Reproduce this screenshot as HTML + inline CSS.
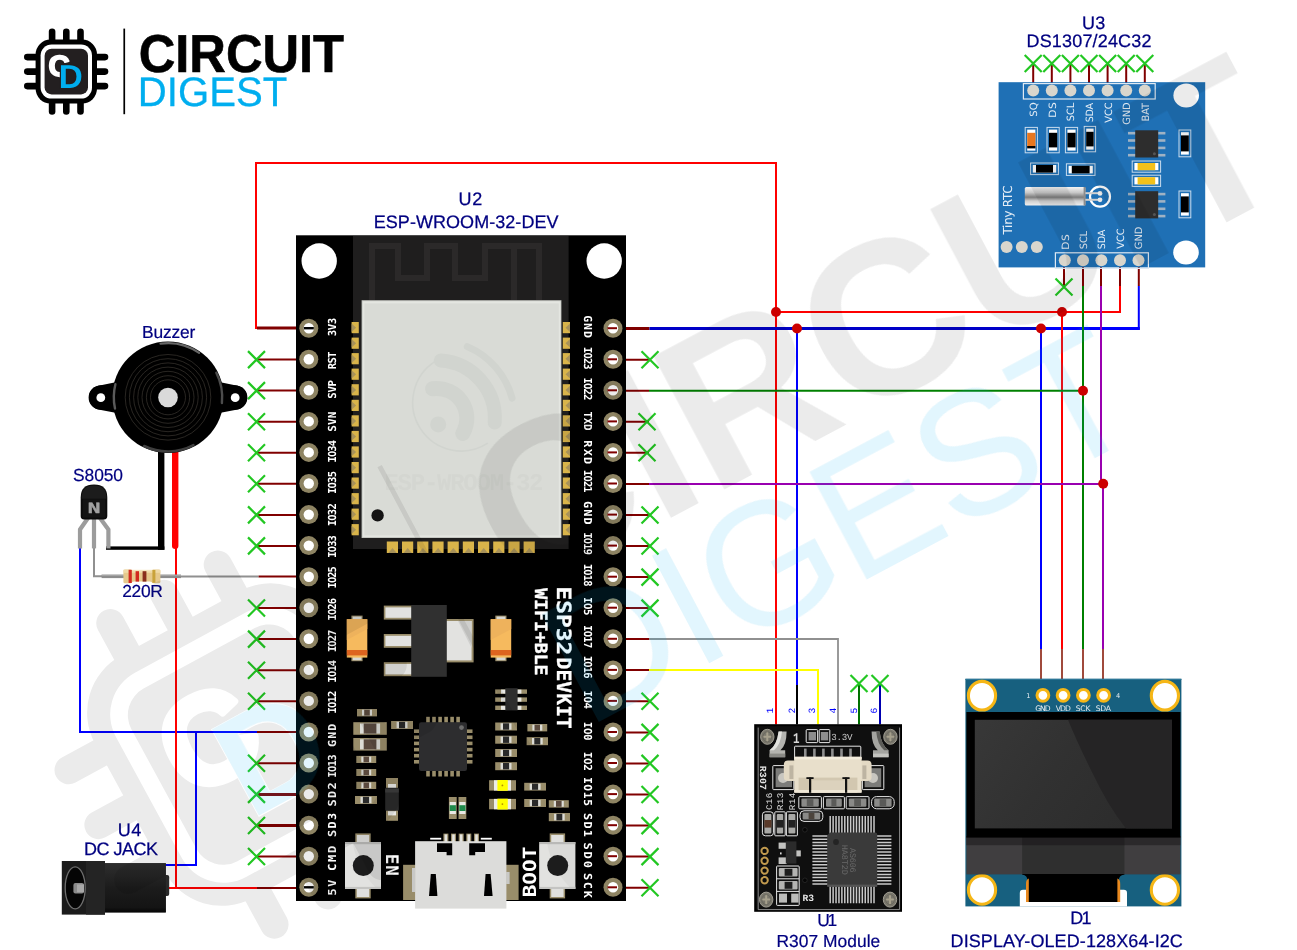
<!DOCTYPE html>
<html lang="en"><head><meta charset="utf-8"><title>ESP32 Fingerprint Attendance Circuit - Circuit Digest</title>
<style>html,body{margin:0;padding:0;background:#fff;overflow:hidden}svg{display:block;will-change:transform}text{white-space:pre;text-rendering:geometricPrecision}</style></head><body>
<svg width="1297" height="950" viewBox="0 0 1297 950" role="img" aria-label="ESP32 fingerprint attendance circuit diagram">
<rect width="1297" height="950" fill="#fff"/>
<g id="logo"><g stroke="#000" stroke-width="6.6" stroke-linecap="round"><line x1="52.1" y1="31.8" x2="52.1" y2="111.4"/><line x1="66.3" y1="31.8" x2="66.3" y2="111.4"/><line x1="80.5" y1="31.8" x2="80.5" y2="111.4"/><line x1="27.3" y1="57.1" x2="105" y2="57.1"/><line x1="27.3" y1="71.6" x2="105" y2="71.6"/><line x1="27.3" y1="86.1" x2="105" y2="86.1"/></g>
<rect x="35.6" y="39.6" width="61.4" height="64" rx="15" fill="#000"/>
<rect x="40.6" y="44.6" width="51.4" height="54" rx="11" fill="#fff"/>
<rect x="44.6" y="48.8" width="43.4" height="45.6" rx="7" fill="#231f20"/>
<text x="48.6" y="76.4" font-family="'Liberation Sans', Arial, sans-serif" font-weight="bold" font-size="29.4" stroke-width="1.7" stroke-linejoin="round" fill="#fff" stroke="#fff">C</text>
<rect x="64" y="68.4" width="11.6" height="16" rx="3" fill="#231f20"/>
<text x="58.8" y="87.6" font-family="'Liberation Sans', Arial, sans-serif" font-weight="bold" font-size="33.2" fill="#00aeef" stroke="#231f20" stroke-width="2.4" stroke-linejoin="round" paint-order="stroke">D</text>
<rect x="123.4" y="28.6" width="1.7" height="85.6" fill="#000"/>
<text transform="translate(138.7,71.6) scale(0.989,1.04)" font-family="'Liberation Sans', Arial, sans-serif" font-weight="bold" font-size="51.2" fill="#000" stroke="#000" stroke-width="0.6">CIRCUIT</text>
<text transform="translate(137.8,105.5) scale(0.972,1)" font-family="'Liberation Sans', Arial, sans-serif" font-size="41.3" fill="#00aeef" stroke="#00aeef" stroke-width="0.3">DIGEST</text></g>
<g id="wires"><polyline points="256,329 256,163 776,163 776,724.5" fill="none" stroke="#ff0000" stroke-width="2" />
<polyline points="257,328 297,328" fill="none" stroke="#800000" stroke-width="3" />
<polyline points="257,359.6 297,359.6" fill="none" stroke="#800000" stroke-width="2" />
<path d="M248.0,351.1L265.0,368.1M248.0,368.1L265.0,351.1" stroke="#22c722" stroke-width="2.2" fill="none"/>
<polyline points="257,390.6 297,390.6" fill="none" stroke="#800000" stroke-width="2" />
<path d="M248.0,382.1L265.0,399.1M248.0,399.1L265.0,382.1" stroke="#22c722" stroke-width="2.2" fill="none"/>
<polyline points="257,421.7 297,421.7" fill="none" stroke="#800000" stroke-width="2" />
<path d="M248.0,413.2L265.0,430.2M248.0,430.2L265.0,413.2" stroke="#22c722" stroke-width="2.2" fill="none"/>
<polyline points="257,452.7 297,452.7" fill="none" stroke="#800000" stroke-width="2" />
<path d="M248.0,444.2L265.0,461.2M248.0,461.2L265.0,444.2" stroke="#22c722" stroke-width="2.2" fill="none"/>
<polyline points="257,483.8 297,483.8" fill="none" stroke="#800000" stroke-width="2" />
<path d="M248.0,475.3L265.0,492.3M248.0,492.3L265.0,475.3" stroke="#22c722" stroke-width="2.2" fill="none"/>
<polyline points="257,514.9 297,514.9" fill="none" stroke="#800000" stroke-width="2" />
<path d="M248.0,506.4L265.0,523.4M248.0,523.4L265.0,506.4" stroke="#22c722" stroke-width="2.2" fill="none"/>
<polyline points="257,545.9 297,545.9" fill="none" stroke="#800000" stroke-width="2" />
<path d="M248.0,537.4L265.0,554.4M248.0,554.4L265.0,537.4" stroke="#22c722" stroke-width="2.2" fill="none"/>
<polyline points="257,608.0 297,608.0" fill="none" stroke="#800000" stroke-width="2" />
<path d="M248.0,599.5L265.0,616.5M248.0,616.5L265.0,599.5" stroke="#22c722" stroke-width="2.2" fill="none"/>
<polyline points="257,639.1 297,639.1" fill="none" stroke="#800000" stroke-width="2" />
<path d="M248.0,630.6L265.0,647.6M248.0,647.6L265.0,630.6" stroke="#22c722" stroke-width="2.2" fill="none"/>
<polyline points="257,670.2 297,670.2" fill="none" stroke="#800000" stroke-width="2" />
<path d="M248.0,661.7L265.0,678.7M248.0,678.7L265.0,661.7" stroke="#22c722" stroke-width="2.2" fill="none"/>
<polyline points="257,701.2 297,701.2" fill="none" stroke="#800000" stroke-width="2" />
<path d="M248.0,692.7L265.0,709.7M248.0,709.7L265.0,692.7" stroke="#22c722" stroke-width="2.2" fill="none"/>
<polyline points="257,763.3 297,763.3" fill="none" stroke="#800000" stroke-width="2" />
<path d="M248.0,754.8L265.0,771.8M248.0,771.8L265.0,754.8" stroke="#22c722" stroke-width="2.2" fill="none"/>
<polyline points="257,794.4 297,794.4" fill="none" stroke="#800000" stroke-width="3" />
<path d="M248.0,785.9L265.0,802.9M248.0,802.9L265.0,785.9" stroke="#22c722" stroke-width="2.2" fill="none"/>
<polyline points="257,825.5 297,825.5" fill="none" stroke="#800000" stroke-width="3" />
<path d="M248.0,817.0L265.0,834.0M248.0,834.0L265.0,817.0" stroke="#22c722" stroke-width="2.2" fill="none"/>
<polyline points="257,856.5 297,856.5" fill="none" stroke="#800000" stroke-width="2" />
<path d="M248.0,848.0L265.0,865.0M248.0,865.0L265.0,848.0" stroke="#22c722" stroke-width="2.2" fill="none"/>
<polyline points="94,546 94,576.3 102,576.3" fill="none" stroke="#909090" stroke-width="2" />
<polyline points="180,576.5 258.6,576.5" fill="none" stroke="#909090" stroke-width="2" />
<polyline points="258.6,576.6 297,576.6" fill="none" stroke="#800000" stroke-width="2" />
<polyline points="80,546 80,732 257,732" fill="none" stroke="#0000ff" stroke-width="2" />
<polyline points="257,732 297,732" fill="none" stroke="#800000" stroke-width="2" />
<polyline points="196,732 196,865 165,865" fill="none" stroke="#0000ff" stroke-width="2" />
<polyline points="176,546 176,888 168,888" fill="none" stroke="#ff0000" stroke-width="2" />
<polyline points="176,888 257,888" fill="none" stroke="#ff0000" stroke-width="2" />
<polyline points="257,888 297,888" fill="none" stroke="#800000" stroke-width="2" />
<polyline points="608,359.7 649,359.7" fill="none" stroke="#800000" stroke-width="2" />
<path d="M641.5,351.2L658.5,368.2M641.5,368.2L658.5,351.2" stroke="#22c722" stroke-width="2.2" fill="none"/>
<polyline points="608,421.8 649,421.8" fill="none" stroke="#800000" stroke-width="2" />
<path d="M638.5,413.3L655.5,430.3M638.5,430.3L655.5,413.3" stroke="#22c722" stroke-width="2.2" fill="none"/>
<polyline points="608,452.8 649,452.8" fill="none" stroke="#800000" stroke-width="2" />
<path d="M638.5,444.3L655.5,461.3M638.5,461.3L655.5,444.3" stroke="#22c722" stroke-width="2.2" fill="none"/>
<polyline points="608,515.0 649,515.0" fill="none" stroke="#800000" stroke-width="2" />
<path d="M641.5,506.5L658.5,523.5M641.5,523.5L658.5,506.5" stroke="#22c722" stroke-width="2.2" fill="none"/>
<polyline points="608,546.0 649,546.0" fill="none" stroke="#800000" stroke-width="2" />
<path d="M641.5,537.5L658.5,554.5M641.5,554.5L658.5,537.5" stroke="#22c722" stroke-width="2.2" fill="none"/>
<polyline points="608,577.1 649,577.1" fill="none" stroke="#800000" stroke-width="2" />
<path d="M641.5,568.6L658.5,585.6M641.5,585.6L658.5,568.6" stroke="#22c722" stroke-width="2.2" fill="none"/>
<polyline points="608,608.1 649,608.1" fill="none" stroke="#800000" stroke-width="2" />
<path d="M641.5,599.6L658.5,616.6M641.5,616.6L658.5,599.6" stroke="#22c722" stroke-width="2.2" fill="none"/>
<polyline points="608,701.3 649,701.3" fill="none" stroke="#800000" stroke-width="2" />
<path d="M641.5,692.8L658.5,709.8M641.5,709.8L658.5,692.8" stroke="#22c722" stroke-width="2.2" fill="none"/>
<polyline points="608,732.4 649,732.4" fill="none" stroke="#800000" stroke-width="2" />
<path d="M641.5,723.9L658.5,740.9M641.5,740.9L658.5,723.9" stroke="#22c722" stroke-width="2.2" fill="none"/>
<polyline points="608,763.4 649,763.4" fill="none" stroke="#800000" stroke-width="2" />
<path d="M641.5,754.9L658.5,771.9M641.5,771.9L658.5,754.9" stroke="#22c722" stroke-width="2.2" fill="none"/>
<polyline points="608,794.5 649,794.5" fill="none" stroke="#800000" stroke-width="2" />
<path d="M641.5,786.0L658.5,803.0M641.5,803.0L658.5,786.0" stroke="#22c722" stroke-width="2.2" fill="none"/>
<polyline points="608,825.6 649,825.6" fill="none" stroke="#800000" stroke-width="2" />
<path d="M641.5,817.1L658.5,834.1M641.5,834.1L658.5,817.1" stroke="#22c722" stroke-width="2.2" fill="none"/>
<polyline points="608,856.6 649,856.6" fill="none" stroke="#800000" stroke-width="2" />
<path d="M641.5,848.1L658.5,865.1M641.5,865.1L658.5,848.1" stroke="#22c722" stroke-width="2.2" fill="none"/>
<polyline points="608,887.7 649,887.7" fill="none" stroke="#800000" stroke-width="2" />
<path d="M641.5,879.2L658.5,896.2M641.5,896.2L658.5,879.2" stroke="#22c722" stroke-width="2.2" fill="none"/>
<polyline points="608,328.5 649.5,328.5" fill="none" stroke="#800000" stroke-width="3" />
<polyline points="649.5,328.5 1041,328.5" fill="none" stroke="#0000c8" stroke-width="3" />
<polyline points="1041,328.5 1139.8,328.5" fill="none" stroke="#0000ff" stroke-width="3" />
<polyline points="1138.8,329.8 1138.8,286" fill="none" stroke="#0000ff" stroke-width="2" />
<polyline points="797,328 797,686" fill="none" stroke="#0000ff" stroke-width="2" />
<polyline points="797,685 797,724.5" fill="none" stroke="#000" stroke-width="2" />
<polyline points="1041,328 1041,649" fill="none" stroke="#0000ff" stroke-width="2" />
<polyline points="776,312 1120,312 1120,286" fill="none" stroke="#ff0000" stroke-width="2" />
<polyline points="1062,312 1062,649" fill="none" stroke="#ff0000" stroke-width="2" />
<polyline points="608,390.8 649,390.8" fill="none" stroke="#800000" stroke-width="2" />
<polyline points="649,390.8 1083,390.8" fill="none" stroke="#008000" stroke-width="2" />
<polyline points="1083,286 1083,649" fill="none" stroke="#008000" stroke-width="2" />
<polyline points="608,484 649,484" fill="none" stroke="#800000" stroke-width="2" />
<polyline points="649,484 1103,484" fill="none" stroke="#9900b0" stroke-width="2" />
<polyline points="1101,286 1101,484" fill="none" stroke="#9900b0" stroke-width="2" />
<polyline points="1103,484 1103,649" fill="none" stroke="#9900b0" stroke-width="2" />
<polyline points="608,639 649,639" fill="none" stroke="#800000" stroke-width="2" />
<polyline points="649,639 838,639 838,724.5" fill="none" stroke="#909090" stroke-width="1.8" />
<polyline points="608,670 649,670" fill="none" stroke="#800000" stroke-width="2" />
<polyline points="649,670 818,670 818,724.5" fill="none" stroke="#ffff00" stroke-width="2" />
<polyline points="859,684 859,724.5" fill="none" stroke="#007000" stroke-width="2" />
<polyline points="880,684 880,724.5" fill="none" stroke="#0000b0" stroke-width="2" />
<path d="M850.5,675.0L867.5,692.0M850.5,692.0L867.5,675.0" stroke="#22c722" stroke-width="2.2" fill="none"/>
<path d="M871.5,675.0L888.5,692.0M871.5,692.0L888.5,675.0" stroke="#22c722" stroke-width="2.2" fill="none"/>
<polyline points="1041,649 1041,680" fill="none" stroke="#a04a3c" stroke-width="2" />
<polyline points="1062,649 1062,680" fill="none" stroke="#a04a3c" stroke-width="2" />
<polyline points="1083,649 1083,680" fill="none" stroke="#a04a3c" stroke-width="2" />
<polyline points="1103,649 1103,680" fill="none" stroke="#a04a3c" stroke-width="2" />
<polyline points="1064,267 1064,286" fill="none" stroke="#800000" stroke-width="2" />
<polyline points="1083,267 1083,286" fill="none" stroke="#800000" stroke-width="2" />
<polyline points="1101,267 1101,286" fill="none" stroke="#800000" stroke-width="2" />
<polyline points="1120,267 1120,286" fill="none" stroke="#800000" stroke-width="2" />
<polyline points="1138.8,267 1138.8,286" fill="none" stroke="#800000" stroke-width="2" />
<path d="M1055.5,278.5L1072.5,295.5M1055.5,295.5L1072.5,278.5" stroke="#22c722" stroke-width="2.2" fill="none"/>
<polyline points="1033.2,65 1033.2,83" fill="none" stroke="#800000" stroke-width="2" />
<path d="M1024.7,55.0L1041.7,72.0M1024.7,72.0L1041.7,55.0" stroke="#22c722" stroke-width="2.2" fill="none"/>
<polyline points="1051.8,65 1051.8,83" fill="none" stroke="#800000" stroke-width="2" />
<path d="M1043.3,55.0L1060.3,72.0M1043.3,72.0L1060.3,55.0" stroke="#22c722" stroke-width="2.2" fill="none"/>
<polyline points="1070.4,65 1070.4,83" fill="none" stroke="#800000" stroke-width="2" />
<path d="M1061.9,55.0L1078.9,72.0M1061.9,72.0L1078.9,55.0" stroke="#22c722" stroke-width="2.2" fill="none"/>
<polyline points="1089.0,65 1089.0,83" fill="none" stroke="#800000" stroke-width="2" />
<path d="M1080.5,55.0L1097.5,72.0M1080.5,72.0L1097.5,55.0" stroke="#22c722" stroke-width="2.2" fill="none"/>
<polyline points="1107.6000000000001,65 1107.6000000000001,83" fill="none" stroke="#800000" stroke-width="2" />
<path d="M1099.1000000000001,55.0L1116.1000000000001,72.0M1099.1000000000001,72.0L1116.1000000000001,55.0" stroke="#22c722" stroke-width="2.2" fill="none"/>
<polyline points="1126.2,65 1126.2,83" fill="none" stroke="#800000" stroke-width="2" />
<path d="M1117.7,55.0L1134.7,72.0M1117.7,72.0L1134.7,55.0" stroke="#22c722" stroke-width="2.2" fill="none"/>
<polyline points="1144.8,65 1144.8,83" fill="none" stroke="#800000" stroke-width="2" />
<path d="M1136.3,55.0L1153.3,72.0M1136.3,72.0L1153.3,55.0" stroke="#22c722" stroke-width="2.2" fill="none"/>
<circle cx="776" cy="312" r="5" fill="#cc0000"/>
<circle cx="797" cy="328.5" r="5" fill="#cc0000"/>
<circle cx="1062" cy="312" r="5" fill="#cc0000"/>
<circle cx="1041" cy="328.5" r="5" fill="#cc0000"/>
<circle cx="1083" cy="390.7" r="5" fill="#cc0000"/>
<circle cx="1103.2" cy="483.8" r="5" fill="#cc0000"/></g>
<g id="esp32"><rect x="296.0" y="235.3" width="330.0" height="665.7" fill="#000" />
<rect x="353.0" y="236.0" width="215.6" height="313.0" fill="#1f1e1e" />
<path d="M372,300V246H398V278H427V246H455V278H485V246H539V300M514,246V300" fill="none" stroke="#2b2929" stroke-width="6"/>
<circle cx="319.2" cy="261.0" r="17.7" fill="#fff" />
<circle cx="604.2" cy="261.0" r="17.7" fill="#fff" />
<rect x="351.6" y="322.0" width="7.2" height="11.2" fill="#d9b44a" />
<path d="M351.6,323.5l4.5,4.2l-4.5,4.2z" fill="#a8925a"/>
<rect x="562.8" y="322.0" width="7.2" height="11.2" fill="#d9b44a" />
<path d="M570.0,323.5l-4.5,4.2l4.5,4.2z" fill="#a8925a"/>
<rect x="351.6" y="337.6" width="7.2" height="11.2" fill="#d9b44a" />
<path d="M351.6,339.05l4.5,4.2l-4.5,4.2z" fill="#a8925a"/>
<rect x="562.8" y="337.6" width="7.2" height="11.2" fill="#d9b44a" />
<path d="M570.0,339.05l-4.5,4.2l4.5,4.2z" fill="#a8925a"/>
<rect x="351.6" y="353.1" width="7.2" height="11.2" fill="#d9b44a" />
<path d="M351.6,354.6l4.5,4.2l-4.5,4.2z" fill="#a8925a"/>
<rect x="562.8" y="353.1" width="7.2" height="11.2" fill="#d9b44a" />
<path d="M570.0,354.6l-4.5,4.2l4.5,4.2z" fill="#a8925a"/>
<rect x="351.6" y="368.6" width="7.2" height="11.2" fill="#d9b44a" />
<path d="M351.6,370.15l4.5,4.2l-4.5,4.2z" fill="#a8925a"/>
<rect x="562.8" y="368.6" width="7.2" height="11.2" fill="#d9b44a" />
<path d="M570.0,370.15l-4.5,4.2l4.5,4.2z" fill="#a8925a"/>
<rect x="351.6" y="384.2" width="7.2" height="11.2" fill="#d9b44a" />
<path d="M351.6,385.7l4.5,4.2l-4.5,4.2z" fill="#a8925a"/>
<rect x="562.8" y="384.2" width="7.2" height="11.2" fill="#d9b44a" />
<path d="M570.0,385.7l-4.5,4.2l4.5,4.2z" fill="#a8925a"/>
<rect x="351.6" y="399.8" width="7.2" height="11.2" fill="#d9b44a" />
<path d="M351.6,401.25l4.5,4.2l-4.5,4.2z" fill="#a8925a"/>
<rect x="562.8" y="399.8" width="7.2" height="11.2" fill="#d9b44a" />
<path d="M570.0,401.25l-4.5,4.2l4.5,4.2z" fill="#a8925a"/>
<rect x="351.6" y="415.3" width="7.2" height="11.2" fill="#d9b44a" />
<path d="M351.6,416.8l4.5,4.2l-4.5,4.2z" fill="#a8925a"/>
<rect x="562.8" y="415.3" width="7.2" height="11.2" fill="#d9b44a" />
<path d="M570.0,416.8l-4.5,4.2l4.5,4.2z" fill="#a8925a"/>
<rect x="351.6" y="430.9" width="7.2" height="11.2" fill="#d9b44a" />
<path d="M351.6,432.35l4.5,4.2l-4.5,4.2z" fill="#a8925a"/>
<rect x="562.8" y="430.9" width="7.2" height="11.2" fill="#d9b44a" />
<path d="M570.0,432.35l-4.5,4.2l4.5,4.2z" fill="#a8925a"/>
<rect x="351.6" y="446.4" width="7.2" height="11.2" fill="#d9b44a" />
<path d="M351.6,447.9l4.5,4.2l-4.5,4.2z" fill="#a8925a"/>
<rect x="562.8" y="446.4" width="7.2" height="11.2" fill="#d9b44a" />
<path d="M570.0,447.9l-4.5,4.2l4.5,4.2z" fill="#a8925a"/>
<rect x="351.6" y="462.0" width="7.2" height="11.2" fill="#d9b44a" />
<path d="M351.6,463.45000000000005l4.5,4.2l-4.5,4.2z" fill="#a8925a"/>
<rect x="562.8" y="462.0" width="7.2" height="11.2" fill="#d9b44a" />
<path d="M570.0,463.45000000000005l-4.5,4.2l4.5,4.2z" fill="#a8925a"/>
<rect x="351.6" y="477.5" width="7.2" height="11.2" fill="#d9b44a" />
<path d="M351.6,479.0l4.5,4.2l-4.5,4.2z" fill="#a8925a"/>
<rect x="562.8" y="477.5" width="7.2" height="11.2" fill="#d9b44a" />
<path d="M570.0,479.0l-4.5,4.2l4.5,4.2z" fill="#a8925a"/>
<rect x="351.6" y="493.1" width="7.2" height="11.2" fill="#d9b44a" />
<path d="M351.6,494.55l4.5,4.2l-4.5,4.2z" fill="#a8925a"/>
<rect x="562.8" y="493.1" width="7.2" height="11.2" fill="#d9b44a" />
<path d="M570.0,494.55l-4.5,4.2l4.5,4.2z" fill="#a8925a"/>
<rect x="351.6" y="508.6" width="7.2" height="11.2" fill="#d9b44a" />
<path d="M351.6,510.1l4.5,4.2l-4.5,4.2z" fill="#a8925a"/>
<rect x="562.8" y="508.6" width="7.2" height="11.2" fill="#d9b44a" />
<path d="M570.0,510.1l-4.5,4.2l4.5,4.2z" fill="#a8925a"/>
<rect x="351.6" y="524.1" width="7.2" height="11.2" fill="#d9b44a" />
<path d="M351.6,525.65l4.5,4.2l-4.5,4.2z" fill="#a8925a"/>
<rect x="562.8" y="524.1" width="7.2" height="11.2" fill="#d9b44a" />
<path d="M570.0,525.65l-4.5,4.2l4.5,4.2z" fill="#a8925a"/>
<rect x="386.8" y="541.5" width="11.2" height="11.5" fill="#d9b44a" />
<path d="M388.3,553l4.2,-5l4.2,5z" fill="#a8925a"/>
<rect x="402.0" y="541.5" width="11.2" height="11.5" fill="#d9b44a" />
<path d="M403.5,553l4.2,-5l4.2,5z" fill="#a8925a"/>
<rect x="417.2" y="541.5" width="11.2" height="11.5" fill="#d9b44a" />
<path d="M418.7,553l4.2,-5l4.2,5z" fill="#a8925a"/>
<rect x="432.4" y="541.5" width="11.2" height="11.5" fill="#d9b44a" />
<path d="M433.9,553l4.2,-5l4.2,5z" fill="#a8925a"/>
<rect x="447.6" y="541.5" width="11.2" height="11.5" fill="#d9b44a" />
<path d="M449.1,553l4.2,-5l4.2,5z" fill="#a8925a"/>
<rect x="462.8" y="541.5" width="11.2" height="11.5" fill="#d9b44a" />
<path d="M464.3,553l4.2,-5l4.2,5z" fill="#a8925a"/>
<rect x="478.0" y="541.5" width="11.2" height="11.5" fill="#d9b44a" />
<path d="M479.5,553l4.2,-5l4.2,5z" fill="#a8925a"/>
<rect x="493.2" y="541.5" width="11.2" height="11.5" fill="#d9b44a" />
<path d="M494.7,553l4.2,-5l4.2,5z" fill="#a8925a"/>
<rect x="508.4" y="541.5" width="11.2" height="11.5" fill="#d9b44a" />
<path d="M509.9,553l4.2,-5l4.2,5z" fill="#a8925a"/>
<rect x="523.6" y="541.5" width="11.2" height="11.5" fill="#d9b44a" />
<path d="M525.1,553l4.2,-5l4.2,5z" fill="#a8925a"/>
<rect x="361.6" y="300.2" width="199.8" height="237.8" fill="#c4c6c1" />
<rect x="362.6" y="301.2" width="198.0" height="235.8" fill="#e4e6e1" />
<rect x="364.4" y="303.4" width="194.4" height="232.0" fill="#d9dbd6" />
<path d="M487.8,443.2A48.6,48.6 0 0 1 434.8,361.7" fill="none" stroke="#d1d4cf" stroke-width="1.6" stroke-linecap="butt"/>
<path d="M432.6,388.7A30,30 0 0 1 462.8,433.4" fill="none" stroke="#d1d4cf" stroke-width="15" stroke-linecap="round"/>
<path d="M440.8,360.5A58,58 0 0 1 494.7,422.4" fill="none" stroke="#d1d4cf" stroke-width="14" stroke-linecap="round"/>
<path d="M467.3,346.6A78,78 0 0 1 512.1,398.2" fill="none" stroke="#d1d4cf" stroke-width="7" stroke-linecap="round"/>
<circle cx="438.2" cy="424.4" r="8.0" fill="#d1d4cf" />
<text x="384.44" y="490.0" font-family="'Liberation Mono', 'DejaVu Sans Mono', monospace" font-size="24" font-weight="bold" fill="#d4d6d1" letter-spacing="-1.25" >ESP-WROOM-32</text>
<circle cx="377.6" cy="515.4" r="6.2" fill="#141414" />
<circle cx="308.8" cy="328.2" r="9.5" fill="#8e8463" />
<circle cx="308.8" cy="328.2" r="5.2" fill="#fff" />
<circle cx="613.0" cy="328.2" r="9.5" fill="#8e8463" />
<circle cx="613.0" cy="328.2" r="5.2" fill="#fff" />
<rect x="607.5" y="327.2" width="9.5" height="2.0" fill="#800000" />
<circle cx="308.8" cy="359.3" r="9.5" fill="#8e8463" />
<circle cx="308.8" cy="359.3" r="5.2" fill="#fff" />
<circle cx="613.0" cy="359.3" r="9.5" fill="#8e8463" />
<circle cx="613.0" cy="359.3" r="5.2" fill="#fff" />
<rect x="607.5" y="358.3" width="9.5" height="2.0" fill="#800000" />
<circle cx="308.8" cy="390.3" r="9.5" fill="#8e8463" />
<circle cx="308.8" cy="390.3" r="5.2" fill="#fff" />
<circle cx="613.0" cy="390.3" r="9.5" fill="#8e8463" />
<circle cx="613.0" cy="390.3" r="5.2" fill="#fff" />
<rect x="607.5" y="389.3" width="9.5" height="2.0" fill="#800000" />
<circle cx="308.8" cy="421.4" r="9.5" fill="#8e8463" />
<circle cx="308.8" cy="421.4" r="5.2" fill="#fff" />
<circle cx="613.0" cy="421.4" r="9.5" fill="#8e8463" />
<circle cx="613.0" cy="421.4" r="5.2" fill="#fff" />
<rect x="607.5" y="420.4" width="9.5" height="2.0" fill="#800000" />
<circle cx="308.8" cy="452.4" r="9.5" fill="#8e8463" />
<circle cx="308.8" cy="452.4" r="5.2" fill="#fff" />
<circle cx="613.0" cy="452.4" r="9.5" fill="#8e8463" />
<circle cx="613.0" cy="452.4" r="5.2" fill="#fff" />
<rect x="607.5" y="451.4" width="9.5" height="2.0" fill="#800000" />
<circle cx="308.8" cy="483.5" r="9.5" fill="#8e8463" />
<circle cx="308.8" cy="483.5" r="5.2" fill="#fff" />
<circle cx="613.0" cy="483.5" r="9.5" fill="#8e8463" />
<circle cx="613.0" cy="483.5" r="5.2" fill="#fff" />
<rect x="607.5" y="482.5" width="9.5" height="2.0" fill="#800000" />
<circle cx="308.8" cy="514.6" r="9.5" fill="#8e8463" />
<circle cx="308.8" cy="514.6" r="5.2" fill="#fff" />
<circle cx="613.0" cy="514.6" r="9.5" fill="#8e8463" />
<circle cx="613.0" cy="514.6" r="5.2" fill="#fff" />
<rect x="607.5" y="513.6" width="9.5" height="2.0" fill="#800000" />
<circle cx="308.8" cy="545.6" r="9.5" fill="#8e8463" />
<circle cx="308.8" cy="545.6" r="5.2" fill="#fff" />
<circle cx="613.0" cy="545.6" r="9.5" fill="#8e8463" />
<circle cx="613.0" cy="545.6" r="5.2" fill="#fff" />
<rect x="607.5" y="544.6" width="9.5" height="2.0" fill="#800000" />
<circle cx="308.8" cy="576.7" r="9.5" fill="#8e8463" />
<circle cx="308.8" cy="576.7" r="5.2" fill="#fff" />
<circle cx="613.0" cy="576.7" r="9.5" fill="#8e8463" />
<circle cx="613.0" cy="576.7" r="5.2" fill="#fff" />
<rect x="607.5" y="575.7" width="9.5" height="2.0" fill="#800000" />
<circle cx="308.8" cy="607.7" r="9.5" fill="#8e8463" />
<circle cx="308.8" cy="607.7" r="5.2" fill="#fff" />
<circle cx="613.0" cy="607.7" r="9.5" fill="#8e8463" />
<circle cx="613.0" cy="607.7" r="5.2" fill="#fff" />
<rect x="607.5" y="606.7" width="9.5" height="2.0" fill="#800000" />
<circle cx="308.8" cy="638.8" r="9.5" fill="#8e8463" />
<circle cx="308.8" cy="638.8" r="5.2" fill="#fff" />
<circle cx="613.0" cy="638.8" r="9.5" fill="#8e8463" />
<circle cx="613.0" cy="638.8" r="5.2" fill="#fff" />
<rect x="607.5" y="637.8" width="9.5" height="2.0" fill="#800000" />
<circle cx="308.8" cy="669.9" r="9.5" fill="#8e8463" />
<circle cx="308.8" cy="669.9" r="5.2" fill="#fff" />
<circle cx="613.0" cy="669.9" r="9.5" fill="#8e8463" />
<circle cx="613.0" cy="669.9" r="5.2" fill="#fff" />
<rect x="607.5" y="668.9" width="9.5" height="2.0" fill="#800000" />
<circle cx="308.8" cy="700.9" r="9.5" fill="#8e8463" />
<circle cx="308.8" cy="700.9" r="5.2" fill="#fff" />
<circle cx="613.0" cy="700.9" r="9.5" fill="#8e8463" />
<circle cx="613.0" cy="700.9" r="5.2" fill="#fff" />
<rect x="607.5" y="699.9" width="9.5" height="2.0" fill="#800000" />
<circle cx="308.8" cy="732.0" r="9.5" fill="#8e8463" />
<circle cx="308.8" cy="732.0" r="5.2" fill="#fff" />
<circle cx="613.0" cy="732.0" r="9.5" fill="#8e8463" />
<circle cx="613.0" cy="732.0" r="5.2" fill="#fff" />
<rect x="607.5" y="731.0" width="9.5" height="2.0" fill="#800000" />
<circle cx="308.8" cy="763.0" r="9.5" fill="#8e8463" />
<circle cx="308.8" cy="763.0" r="5.2" fill="#fff" />
<circle cx="613.0" cy="763.0" r="9.5" fill="#8e8463" />
<circle cx="613.0" cy="763.0" r="5.2" fill="#fff" />
<rect x="607.5" y="762.0" width="9.5" height="2.0" fill="#800000" />
<circle cx="308.8" cy="794.1" r="9.5" fill="#8e8463" />
<circle cx="308.8" cy="794.1" r="5.2" fill="#fff" />
<circle cx="613.0" cy="794.1" r="9.5" fill="#8e8463" />
<circle cx="613.0" cy="794.1" r="5.2" fill="#fff" />
<rect x="607.5" y="793.1" width="9.5" height="2.0" fill="#800000" />
<circle cx="308.8" cy="825.2" r="9.5" fill="#8e8463" />
<circle cx="308.8" cy="825.2" r="5.2" fill="#fff" />
<circle cx="613.0" cy="825.2" r="9.5" fill="#8e8463" />
<circle cx="613.0" cy="825.2" r="5.2" fill="#fff" />
<rect x="607.5" y="824.2" width="9.5" height="2.0" fill="#800000" />
<circle cx="308.8" cy="856.2" r="9.5" fill="#8e8463" />
<circle cx="308.8" cy="856.2" r="5.2" fill="#fff" />
<circle cx="613.0" cy="856.2" r="9.5" fill="#8e8463" />
<circle cx="613.0" cy="856.2" r="5.2" fill="#fff" />
<rect x="607.5" y="855.2" width="9.5" height="2.0" fill="#800000" />
<circle cx="308.8" cy="887.3" r="9.5" fill="#8e8463" />
<circle cx="308.8" cy="887.3" r="5.2" fill="#fff" />
<circle cx="613.0" cy="887.3" r="9.5" fill="#8e8463" />
<circle cx="613.0" cy="887.3" r="5.2" fill="#fff" />
<rect x="607.5" y="886.3" width="9.5" height="2.0" fill="#800000" />
<rect x="303.8" y="327.0" width="10.0" height="2.4" fill="#000" />
<rect x="303.8" y="886.1" width="10.0" height="2.4" fill="#000" />
<text transform="translate(336.1,335.7) rotate(-90) scale(0.977,1)" x="-0.66" font-family="'DejaVu Sans Mono', 'Liberation Mono', monospace" font-size="11" font-weight="bold" fill="#fff" letter-spacing="-0.41" >3V3</text>
<text transform="translate(336.1,368.5) rotate(-90) scale(0.957,1)" x="-0.72" font-family="'DejaVu Sans Mono', 'Liberation Mono', monospace" font-size="11" font-weight="bold" fill="#fff" letter-spacing="-0.78" >RST</text>
<text transform="translate(336.1,398.0) rotate(-90) scale(0.977,1)" x="-0.66" font-family="'DejaVu Sans Mono', 'Liberation Mono', monospace" font-size="11" font-weight="bold" fill="#fff" letter-spacing="-0.42" >SVP</text>
<text transform="translate(336.1,431.0) rotate(-90) scale(1.006,1)" x="-0.66" font-family="'DejaVu Sans Mono', 'Liberation Mono', monospace" font-size="11" font-weight="bold" fill="#fff" letter-spacing="0.10" >SVN</text>
<text transform="translate(336.1,461.6) rotate(-90) scale(0.944,1)" x="-0.94" font-family="'DejaVu Sans Mono', 'Liberation Mono', monospace" font-size="11" font-weight="bold" fill="#fff" letter-spacing="-0.91" >IO34</text>
<text transform="translate(336.1,493.2) rotate(-90) scale(0.953,1)" x="-0.94" font-family="'DejaVu Sans Mono', 'Liberation Mono', monospace" font-size="11" font-weight="bold" fill="#fff" letter-spacing="-0.75" >IO35</text>
<text transform="translate(336.1,525.3) rotate(-90) scale(0.950,1)" x="-0.94" font-family="'DejaVu Sans Mono', 'Liberation Mono', monospace" font-size="11" font-weight="bold" fill="#fff" letter-spacing="-0.81" >IO32</text>
<text transform="translate(336.1,556.8) rotate(-90) scale(0.946,1)" x="-0.94" font-family="'DejaVu Sans Mono', 'Liberation Mono', monospace" font-size="11" font-weight="bold" fill="#fff" letter-spacing="-0.88" >IO33</text>
<text transform="translate(336.1,587.4) rotate(-90) scale(0.938,1)" x="-0.94" font-family="'DejaVu Sans Mono', 'Liberation Mono', monospace" font-size="11" font-weight="bold" fill="#fff" letter-spacing="-1.02" >IO25</text>
<text transform="translate(336.1,619.6) rotate(-90) scale(0.946,1)" x="-0.94" font-family="'DejaVu Sans Mono', 'Liberation Mono', monospace" font-size="11" font-weight="bold" fill="#fff" letter-spacing="-0.89" >IO26</text>
<text transform="translate(336.1,651.2) rotate(-90) scale(0.943,1)" x="-0.94" font-family="'DejaVu Sans Mono', 'Liberation Mono', monospace" font-size="11" font-weight="bold" fill="#fff" letter-spacing="-0.92" >IO27</text>
<text transform="translate(336.1,681.5) rotate(-90) scale(0.944,1)" x="-0.94" font-family="'DejaVu Sans Mono', 'Liberation Mono', monospace" font-size="11" font-weight="bold" fill="#fff" letter-spacing="-0.91" >IO14</text>
<text transform="translate(336.1,712.6) rotate(-90) scale(0.948,1)" x="-0.94" font-family="'DejaVu Sans Mono', 'Liberation Mono', monospace" font-size="11" font-weight="bold" fill="#fff" letter-spacing="-0.83" >IO12</text>
<text transform="translate(336.1,746.3) rotate(-90) scale(1.061,1)" x="-0.60" font-family="'DejaVu Sans Mono', 'Liberation Mono', monospace" font-size="11" font-weight="bold" fill="#fff" letter-spacing="1.01" >GND</text>
<text transform="translate(336.1,776.8) rotate(-90) scale(0.954,1)" x="-0.94" font-family="'DejaVu Sans Mono', 'Liberation Mono', monospace" font-size="11" font-weight="bold" fill="#fff" letter-spacing="-0.74" >IO13</text>
<text transform="translate(336.1,805.7) rotate(-90) scale(1.080,1)" x="-0.66" font-family="'DejaVu Sans Mono', 'Liberation Mono', monospace" font-size="11" font-weight="bold" fill="#fff" letter-spacing="1.26" >SD2</text>
<text transform="translate(336.1,836.4) rotate(-90) scale(1.079,1)" x="-0.66" font-family="'DejaVu Sans Mono', 'Liberation Mono', monospace" font-size="11" font-weight="bold" fill="#fff" letter-spacing="1.25" >SD3</text>
<text transform="translate(336.1,870.1) rotate(-90) scale(1.098,1)" x="-0.82" font-family="'DejaVu Sans Mono', 'Liberation Mono', monospace" font-size="11" font-weight="bold" fill="#fff" letter-spacing="1.54" >CMD</text>
<text transform="translate(336.1,894.7) rotate(-90) scale(1.073,1)" x="-0.77" font-family="'DejaVu Sans Mono', 'Liberation Mono', monospace" font-size="11" font-weight="bold" fill="#fff" letter-spacing="1.54" >5V</text>
<text transform="translate(583.6,315.9) rotate(90) scale(1.050,1)" x="-0.60" font-family="'DejaVu Sans Mono', 'Liberation Mono', monospace" font-size="11" font-weight="bold" fill="#fff" letter-spacing="0.83" >GND</text>
<text transform="translate(583.6,347.9) rotate(90) scale(0.946,1)" x="-0.94" font-family="'DejaVu Sans Mono', 'Liberation Mono', monospace" font-size="11" font-weight="bold" fill="#fff" letter-spacing="-0.88" >IO23</text>
<text transform="translate(583.6,378.4) rotate(90) scale(0.950,1)" x="-0.94" font-family="'DejaVu Sans Mono', 'Liberation Mono', monospace" font-size="11" font-weight="bold" fill="#fff" letter-spacing="-0.81" >IO22</text>
<text transform="translate(583.6,412.1) rotate(90) scale(0.981,1)" x="-0.49" font-family="'DejaVu Sans Mono', 'Liberation Mono', monospace" font-size="11" font-weight="bold" fill="#fff" letter-spacing="-0.34" >TXD</text>
<text transform="translate(583.6,441.0) rotate(90) scale(1.075,1)" x="-0.72" font-family="'DejaVu Sans Mono', 'Liberation Mono', monospace" font-size="11" font-weight="bold" fill="#fff" letter-spacing="1.21" >RXD</text>
<text transform="translate(583.6,471.0) rotate(90) scale(0.945,1)" x="-0.94" font-family="'DejaVu Sans Mono', 'Liberation Mono', monospace" font-size="11" font-weight="bold" fill="#fff" letter-spacing="-0.90" >IO21</text>
<text transform="translate(583.6,501.7) rotate(90) scale(1.069,1)" x="-0.60" font-family="'DejaVu Sans Mono', 'Liberation Mono', monospace" font-size="11" font-weight="bold" fill="#fff" letter-spacing="1.12" >GND</text>
<text transform="translate(583.6,533.3) rotate(90) scale(0.946,1)" x="-0.94" font-family="'DejaVu Sans Mono', 'Liberation Mono', monospace" font-size="11" font-weight="bold" fill="#fff" letter-spacing="-0.88" >IO19</text>
<text transform="translate(583.6,564.8) rotate(90) scale(0.947,1)" x="-0.94" font-family="'DejaVu Sans Mono', 'Liberation Mono', monospace" font-size="11" font-weight="bold" fill="#fff" letter-spacing="-0.86" >IO18</text>
<text transform="translate(583.6,597.9) rotate(90) scale(0.973,1)" x="-0.94" font-family="'DejaVu Sans Mono', 'Liberation Mono', monospace" font-size="11" font-weight="bold" fill="#fff" letter-spacing="-0.47" >IO5</text>
<text transform="translate(583.6,625.9) rotate(90) scale(0.955,1)" x="-0.94" font-family="'DejaVu Sans Mono', 'Liberation Mono', monospace" font-size="11" font-weight="bold" fill="#fff" letter-spacing="-0.73" >IO17</text>
<text transform="translate(583.6,656.8) rotate(90) scale(0.946,1)" x="-0.94" font-family="'DejaVu Sans Mono', 'Liberation Mono', monospace" font-size="11" font-weight="bold" fill="#fff" letter-spacing="-0.89" >IO16</text>
<text transform="translate(583.6,691.4) rotate(90) scale(0.972,1)" x="-0.94" font-family="'DejaVu Sans Mono', 'Liberation Mono', monospace" font-size="11" font-weight="bold" fill="#fff" letter-spacing="-0.49" >IO4</text>
<text transform="translate(583.6,722.7) rotate(90) scale(0.981,1)" x="-0.94" font-family="'DejaVu Sans Mono', 'Liberation Mono', monospace" font-size="11" font-weight="bold" fill="#fff" letter-spacing="-0.34" >IO0</text>
<text transform="translate(583.6,752.6) rotate(90) scale(0.986,1)" x="-0.94" font-family="'DejaVu Sans Mono', 'Liberation Mono', monospace" font-size="11" font-weight="bold" fill="#fff" letter-spacing="-0.24" >IO2</text>
<text transform="translate(583.6,777.9) rotate(90) scale(1.037,1)" x="-0.94" font-family="'DejaVu Sans Mono', 'Liberation Mono', monospace" font-size="11" font-weight="bold" fill="#fff" letter-spacing="0.54" >IO15</text>
<text transform="translate(583.6,813.7) rotate(90) scale(1.075,1)" x="-0.66" font-family="'DejaVu Sans Mono', 'Liberation Mono', monospace" font-size="11" font-weight="bold" fill="#fff" letter-spacing="1.21" >SD1</text>
<text transform="translate(583.6,843.2) rotate(90) scale(1.106,1)" x="-0.66" font-family="'DejaVu Sans Mono', 'Liberation Mono', monospace" font-size="11" font-weight="bold" fill="#fff" letter-spacing="1.65" >SD0</text>
<text transform="translate(583.6,873.7) rotate(90) scale(1.093,1)" x="-0.66" font-family="'DejaVu Sans Mono', 'Liberation Mono', monospace" font-size="11" font-weight="bold" fill="#fff" letter-spacing="1.51" >SCK</text>
<text transform="translate(557.3,588.4) rotate(90)" font-family="'DejaVu Sans Mono', 'Liberation Mono', monospace" font-size="19.6" font-weight="bold" fill="#fff" stroke="#fff" stroke-width="0.3"><tspan x="-1.82" textLength="68.65" lengthAdjust="spacingAndGlyphs">ESP32</tspan><tspan x="57.21" letter-spacing="0.12"> DEVKIT</tspan></text>
<text transform="translate(534.8,631.3) rotate(90) scale(1.065,1)" x="-40.38" font-family="'DejaVu Sans Mono', 'Liberation Mono', monospace" font-size="17" font-weight="bold" fill="#fff" letter-spacing="0.00" stroke="#fff" stroke-width="0.4">WIFI+BLE</text>
<text transform="translate(385.6,865.0) rotate(90) scale(1.019,1)" x="-11.00" font-family="'DejaVu Sans Mono', 'Liberation Mono', monospace" font-size="17.3" font-weight="bold" fill="#fff" letter-spacing="0.81" >EN</text>
<text transform="translate(536.0,871.8) rotate(-90) scale(1.156,1)" x="-22.07" font-family="'DejaVu Sans Mono', 'Liberation Mono', monospace" font-size="18.2" font-weight="bold" fill="#fff" letter-spacing="0.00" >BOOT</text>
<rect x="351.4" y="615.6" width="11.2" height="45.6" fill="#998d6a" />
<rect x="352.7" y="616.6" width="8.8" height="43.6" fill="#d8d8d4" />
<rect x="346.8" y="619.2" width="20.5" height="38.4" fill="#f6ba5e" />
<path d="M346.8,619.2H367.3V629L346.8,640z" fill="#eeb25c"/>
<rect x="346.8" y="650.0" width="20.5" height="5.4" fill="#dd6420" />
<rect x="495.3" y="615.6" width="11.2" height="45.6" fill="#998d6a" />
<rect x="496.6" y="616.6" width="8.8" height="43.6" fill="#d8d8d4" />
<rect x="490.7" y="619.2" width="20.5" height="38.4" fill="#f6ba5e" />
<path d="M490.7,619.2H511.2V629L490.7,640z" fill="#eeb25c"/>
<rect x="490.7" y="650.0" width="20.5" height="5.4" fill="#dd6420" />
<rect x="383.8" y="605.6" width="28.2" height="14.0" fill="#998d6a" />
<rect x="385.4" y="607.4" width="26.6" height="10.4" fill="#e2e2e0" />
<rect x="383.8" y="634.0" width="28.2" height="13.8" fill="#998d6a" />
<rect x="385.4" y="635.8" width="26.6" height="10.2" fill="#e2e2e0" />
<rect x="383.8" y="662.2" width="28.2" height="14.0" fill="#998d6a" />
<rect x="385.4" y="664.0" width="26.6" height="10.4" fill="#e2e2e0" />
<rect x="446.0" y="619.0" width="27.6" height="43.4" fill="#998d6a" />
<rect x="446.0" y="621.0" width="25.6" height="39.4" fill="#e2e2e0" />
<path d="M458,621H471.6V648z" fill="#cfcfcd"/>
<rect x="411.2" y="605.0" width="35.6" height="71.8" fill="#303030" />
<rect x="357.0" y="709.0" width="20.0" height="7.4" fill="#998d6a" /><rect x="362.0" y="709.7" width="10.0" height="5.9" fill="#dcdcd6" /><rect x="364.2" y="709.7" width="5.6" height="5.9" fill="#5b4a3e" />
<rect x="353.3" y="722.2" width="33.5" height="12.6" fill="#998d6a" /><rect x="360.0" y="723.5" width="20.1" height="10.1" fill="#dcdcd6" /><rect x="363.7" y="723.5" width="12.7" height="10.1" fill="#5a4a40" />
<rect x="353.3" y="738.0" width="33.5" height="12.6" fill="#998d6a" /><rect x="360.0" y="739.3" width="20.1" height="10.1" fill="#dcdcd6" /><rect x="363.7" y="739.3" width="12.7" height="10.1" fill="#5a4a40" />
<rect x="356.3" y="755.9" width="19.9" height="7.1" fill="#998d6a" /><rect x="361.3" y="756.6" width="9.9" height="5.7" fill="#dcdcd6" /><rect x="363.5" y="756.6" width="5.6" height="5.7" fill="#5b4a3e" />
<rect x="356.3" y="769.0" width="19.9" height="7.0" fill="#998d6a" /><rect x="361.3" y="769.7" width="9.9" height="5.6" fill="#dcdcd6" /><rect x="363.5" y="769.7" width="5.6" height="5.6" fill="#5b4a3e" />
<rect x="356.3" y="781.8" width="19.9" height="7.2" fill="#998d6a" /><rect x="361.3" y="782.5" width="9.9" height="5.8" fill="#dcdcd6" /><rect x="363.5" y="782.5" width="5.6" height="5.8" fill="#5b4a3e" />
<rect x="355.0" y="796.0" width="22.0" height="8.0" fill="#998d6a" /><rect x="360.5" y="796.8" width="11.0" height="6.4" fill="#dcdcd6" /><rect x="362.9" y="796.8" width="6.2" height="6.4" fill="#2a2a2a" />
<rect x="391.1" y="721.0" width="21.9" height="8.0" fill="#998d6a" /><rect x="396.6" y="721.8" width="10.9" height="6.4" fill="#dcdcd6" /><rect x="399.0" y="721.8" width="6.1" height="6.4" fill="#2a2a2a" />
<rect x="426.2" y="716.8" width="3.6" height="6.0" fill="#998d6a" />
<rect x="426.2" y="770.5" width="3.6" height="6.0" fill="#998d6a" />
<rect x="414.0" y="729.4" width="6.0" height="3.6" fill="#998d6a" />
<rect x="466.5" y="729.4" width="6.0" height="3.6" fill="#998d6a" />
<rect x="432.2" y="716.8" width="3.6" height="6.0" fill="#998d6a" />
<rect x="432.2" y="770.5" width="3.6" height="6.0" fill="#998d6a" />
<rect x="414.0" y="735.5" width="6.0" height="3.6" fill="#998d6a" />
<rect x="466.5" y="735.5" width="6.0" height="3.6" fill="#998d6a" />
<rect x="438.3" y="716.8" width="3.6" height="6.0" fill="#998d6a" />
<rect x="438.3" y="770.5" width="3.6" height="6.0" fill="#998d6a" />
<rect x="414.0" y="741.6" width="6.0" height="3.6" fill="#998d6a" />
<rect x="466.5" y="741.6" width="6.0" height="3.6" fill="#998d6a" />
<rect x="444.3" y="716.8" width="3.6" height="6.0" fill="#998d6a" />
<rect x="444.3" y="770.5" width="3.6" height="6.0" fill="#998d6a" />
<rect x="414.0" y="747.8" width="6.0" height="3.6" fill="#998d6a" />
<rect x="466.5" y="747.8" width="6.0" height="3.6" fill="#998d6a" />
<rect x="450.3" y="716.8" width="3.6" height="6.0" fill="#998d6a" />
<rect x="450.3" y="770.5" width="3.6" height="6.0" fill="#998d6a" />
<rect x="414.0" y="753.9" width="6.0" height="3.6" fill="#998d6a" />
<rect x="466.5" y="753.9" width="6.0" height="3.6" fill="#998d6a" />
<rect x="456.3" y="716.8" width="3.6" height="6.0" fill="#998d6a" />
<rect x="456.3" y="770.5" width="3.6" height="6.0" fill="#998d6a" />
<rect x="414.0" y="760.0" width="6.0" height="3.6" fill="#998d6a" />
<rect x="466.5" y="760.0" width="6.0" height="3.6" fill="#998d6a" />
<rect x="419.0" y="722.2" width="48.0" height="48.8" fill="#2d2d2f" rx="2.2"/>
<circle cx="461.5" cy="727.6" r="2.4" fill="#6d6d6d" />
<rect x="386.0" y="778.0" width="12.0" height="12.0" fill="#998d6a" />
<rect x="388.0" y="784.0" width="8.0" height="4.4" fill="#e8e8e4" />
<rect x="386.0" y="810.0" width="12.0" height="10.8" fill="#998d6a" />
<rect x="388.0" y="811.2" width="8.0" height="4.2" fill="#e8e8e4" />
<rect x="385.2" y="787.8" width="13.6" height="23.0" fill="#2b2b2b" rx="1"/>
<rect x="385.2" y="789.0" width="13.6" height="3.5" fill="#3c3c3c" />
<rect x="448.9" y="797.0" width="7.8" height="22.0" fill="#998d6a" />
<rect x="449.7" y="802.0" width="6.2" height="12.0" fill="#e8e8e4" />
<rect x="449.7" y="805.2" width="6.2" height="5.8" fill="#1f8a4c" />
<rect x="458.5" y="797.0" width="7.8" height="22.0" fill="#998d6a" />
<rect x="459.3" y="802.0" width="6.2" height="12.0" fill="#e8e8e4" />
<rect x="459.3" y="805.2" width="6.2" height="5.8" fill="#1f8a4c" />
<rect x="495.2" y="689.4" width="31.8" height="4.4" fill="#998d6a" />
<rect x="501.0" y="689.6" width="20.4" height="4.0" fill="#e8e8e4" />
<rect x="495.2" y="697.4" width="31.8" height="4.4" fill="#998d6a" />
<rect x="501.0" y="697.6" width="20.4" height="4.0" fill="#e8e8e4" />
<rect x="495.2" y="705.6" width="31.8" height="4.4" fill="#998d6a" />
<rect x="501.0" y="705.8" width="20.4" height="4.0" fill="#e8e8e4" />
<rect x="505.3" y="688.2" width="12.3" height="22.2" fill="#2e2e2e" />
<rect x="495.2" y="722.5" width="21.8" height="8.0" fill="#998d6a" /><rect x="500.6" y="723.3" width="10.9" height="6.4" fill="#dcdcd6" /><rect x="503.0" y="723.3" width="6.1" height="6.4" fill="#2a2a2a" />
<rect x="495.2" y="735.7" width="21.8" height="8.0" fill="#998d6a" /><rect x="500.6" y="736.5" width="10.9" height="6.4" fill="#dcdcd6" /><rect x="503.0" y="736.5" width="6.1" height="6.4" fill="#2a2a2a" />
<rect x="495.2" y="749.0" width="21.8" height="8.0" fill="#998d6a" /><rect x="500.6" y="749.8" width="10.9" height="6.4" fill="#dcdcd6" /><rect x="503.0" y="749.8" width="6.1" height="6.4" fill="#2a2a2a" />
<rect x="495.2" y="762.2" width="21.8" height="8.0" fill="#998d6a" /><rect x="500.6" y="763.0" width="10.9" height="6.4" fill="#dcdcd6" /><rect x="503.0" y="763.0" width="6.1" height="6.4" fill="#2a2a2a" />
<rect x="527.4" y="724.0" width="19.8" height="7.4" fill="#998d6a" /><rect x="532.4" y="724.7" width="9.9" height="5.9" fill="#dcdcd6" /><rect x="534.5" y="724.7" width="5.5" height="5.9" fill="#5b4a3e" />
<rect x="526.6" y="737.2" width="21.4" height="8.0" fill="#998d6a" /><rect x="532.0" y="738.0" width="10.7" height="6.4" fill="#dcdcd6" /><rect x="534.3" y="738.0" width="6.0" height="6.4" fill="#2a2a2a" />
<rect x="524.2" y="799.0" width="21.8" height="8.0" fill="#998d6a" /><rect x="529.7" y="799.8" width="10.9" height="6.4" fill="#dcdcd6" /><rect x="532.0" y="799.8" width="6.1" height="6.4" fill="#2a2a2a" />
<rect x="524.2" y="782.8" width="21.8" height="7.8" fill="#998d6a" /><rect x="529.7" y="783.6" width="10.9" height="6.2" fill="#dcdcd6" /><rect x="532.0" y="783.6" width="6.1" height="6.2" fill="#2a2a2a" />
<rect x="548.8" y="800.2" width="20.0" height="7.4" fill="#998d6a" /><rect x="553.8" y="800.9" width="10.0" height="5.9" fill="#dcdcd6" /><rect x="556.0" y="800.9" width="5.6" height="5.9" fill="#5b4a3e" />
<rect x="548.8" y="813.0" width="21.2" height="8.2" fill="#998d6a" /><rect x="554.1" y="813.8" width="10.6" height="6.6" fill="#dcdcd6" /><rect x="556.4" y="813.8" width="5.9" height="6.6" fill="#2a2a2a" />
<rect x="489.1" y="780.2" width="26.9" height="10.4" fill="#998d6a" />
<rect x="494.0" y="780.2" width="17.0" height="10.4" fill="#ecece8" />
<rect x="497.4" y="780.0" width="10.4" height="10.8" fill="#ffff00" />
<circle cx="502.4" cy="785.4" r="0.9" fill="#b09000" />
<rect x="489.1" y="798.9" width="26.9" height="10.4" fill="#998d6a" />
<rect x="494.0" y="798.9" width="17.0" height="10.4" fill="#ecece8" />
<rect x="497.4" y="798.7" width="10.4" height="10.8" fill="#ffff00" />
<circle cx="502.4" cy="804.1" r="0.9" fill="#b09000" />
<rect x="355.3" y="833.4" width="15.4" height="65.0" fill="#998d6a" />
<rect x="356.8" y="835.0" width="12.4" height="62.0" fill="#e0e0de" />
<rect x="345.0" y="842.0" width="36.0" height="47.0" fill="#dadad8" />
<rect x="345.0" y="842.0" width="36.0" height="2.2" fill="#b9b9b7" />
<rect x="345.0" y="886.8" width="36.0" height="2.2" fill="#c4c4c2" />
<path d="M345,844.2H353Q357,868 375,886.8H345z" fill="#e2e2e0"/>
<circle cx="363.3" cy="865.6" r="10.5" fill="#1c1c1c" />
<rect x="549.7" y="833.4" width="15.4" height="65.0" fill="#998d6a" />
<rect x="551.2" y="835.0" width="12.4" height="62.0" fill="#e0e0de" />
<rect x="539.4" y="842.0" width="36.0" height="47.0" fill="#dadad8" />
<rect x="539.4" y="842.0" width="36.0" height="2.2" fill="#b9b9b7" />
<rect x="539.4" y="886.8" width="36.0" height="2.2" fill="#c4c4c2" />
<path d="M539.4,844.2H547.4Q551.4,868 569.4,886.8H539.4z" fill="#e2e2e0"/>
<circle cx="557.7" cy="865.6" r="10.5" fill="#1c1c1c" />
<rect x="403.1" y="864.8" width="115.5" height="35.2" fill="#998d6a" />
<rect x="412.0" y="868.0" width="3.2" height="24.0" fill="#c8c8c6" />
<rect x="506.2" y="872.0" width="3.4" height="12.0" fill="#c8c8c6" />
<rect x="443.4" y="833.6" width="5.0" height="8.4" fill="#998d6a" />
<rect x="444.6" y="834.4" width="2.6" height="7.6" fill="#e4e4e0" />
<rect x="451.0" y="833.6" width="5.0" height="8.4" fill="#998d6a" />
<rect x="452.2" y="834.4" width="2.6" height="7.6" fill="#e4e4e0" />
<rect x="458.7" y="833.6" width="5.0" height="8.4" fill="#998d6a" />
<rect x="459.9" y="834.4" width="2.6" height="7.6" fill="#e4e4e0" />
<rect x="466.3" y="833.6" width="5.0" height="8.4" fill="#998d6a" />
<rect x="467.5" y="834.4" width="2.6" height="7.6" fill="#e4e4e0" />
<rect x="474.0" y="833.6" width="5.0" height="8.4" fill="#998d6a" />
<rect x="475.2" y="834.4" width="2.6" height="7.6" fill="#e4e4e0" />
<rect x="430.2" y="837.8" width="11.0" height="1.8" fill="#fff" />
<rect x="480.8" y="837.8" width="11.0" height="1.8" fill="#fff" />
<rect x="415.1" y="841.2" width="91.3" height="67.4" fill="#dcdcda" />
<path d="M437,843.2H452.2V855.2H446.6V852H437z" fill="#000"/>
<path d="M485,843.2H469.2V855.2H475.2V852H485z" fill="#000"/>
<path d="M430.8,874H435.8L437.4,896H429z" fill="#000"/>
<path d="M485.6,874H490.6L492.6,896H484z" fill="#000"/></g>
<g id="buzzer"><rect x="158.0" y="440.0" width="6.4" height="109.8" fill="#000" />
<rect x="106.0" y="546.4" width="58.4" height="3.4" fill="#000" />
<path d="M172,440H178.4V546Q178.4,549 175.2,549Q172,549 172,546z" fill="#ff0000"/>
<path d="M118.0,381.7L99.7,385.40000000000003A12.2,12.2 0 0 0 99.7,409.7L118.0,413.3z" fill="#000"/>
<circle cx="101.2" cy="397.5" r="12.2" fill="#000" />
<circle cx="100.8" cy="397.7" r="4.4" fill="#fff" />
<path d="M218.0,381.7L236.3,385.40000000000003A12.2,12.2 0 0 1 236.3,409.7L218.0,413.3z" fill="#000"/>
<circle cx="234.8" cy="397.5" r="12.2" fill="#000" />
<circle cx="235.2" cy="397.7" r="4.4" fill="#fff" />
<circle cx="168.0" cy="397.3" r="55.8" fill="#000" />
<path d="M160.5,343.6A54.199999999999996,54.199999999999996 0 0 1 199.1,352.9" fill="none" stroke="#666" stroke-width="2.2" stroke-linecap="round"/>
<path d="M216.3,372.7A54.199999999999996,54.199999999999996 0 0 1 221.9,403.0" fill="none" stroke="#4c4c4c" stroke-width="2.4" stroke-linecap="round"/>
<path d="M193.4,445.2A54.199999999999996,54.199999999999996 0 0 1 144.2,446.0" fill="none" stroke="#3e3e3e" stroke-width="2.6" stroke-linecap="round"/>
<path d="M115.0,408.6A54.199999999999996,54.199999999999996 0 0 1 115.4,384.2" fill="none" stroke="#5a5a5a" stroke-width="2.4" stroke-linecap="round"/>
<circle cx="168" cy="397.3" r="17.5" fill="none" stroke="#3b3631" stroke-width="0.7"/>
<circle cx="168" cy="397.3" r="21.6" fill="none" stroke="#3b3631" stroke-width="0.7"/>
<circle cx="168" cy="397.3" r="26" fill="none" stroke="#3b3631" stroke-width="0.7"/>
<circle cx="168" cy="397.3" r="30.2" fill="none" stroke="#3b3631" stroke-width="0.7"/>
<circle cx="168" cy="397.3" r="34.4" fill="none" stroke="#3b3631" stroke-width="0.7"/>
<circle cx="168" cy="397.3" r="38.6" fill="none" stroke="#3b3631" stroke-width="0.7"/>
<circle cx="168" cy="397.3" r="42.8" fill="none" stroke="#3b3631" stroke-width="0.7"/>
<circle cx="168.0" cy="397.5" r="9.8" fill="#dadada" /></g>
<g id="transistor"><g fill="none" stroke="#9c9c9c" stroke-width="4.2" stroke-linejoin="round"><path d="M88,518L80,529.5V548.4"/><path d="M94,518V548.4"/><path d="M100,518L108.4,529.5V548.4"/></g>
<path d="M80.7,516V497.6Q80.7,484.6 94,484.6Q107.3,484.6 107.3,497.6V516Q107.3,519.4 104,519.4H84Q80.7,519.4 80.7,516z" fill="#0b0b0b"/>
<path d="M81.6,498.8V497.6Q81.6,485.6 94,485.6Q106.4,485.6 106.4,497.6V498.8z" fill="#1c1c1c"/>
<rect x="82.6" y="499.4" width="22.8" height="18.2" fill="#141414" />
<text transform="translate(94,513) scale(1.12,1)" text-anchor="middle" font-family="'DejaVu Sans', 'Liberation Sans', sans-serif" font-weight="bold" font-size="14" fill="#a2a2a2" stroke="#a2a2a2" stroke-width="0.4">N</text></g>
<g id="resistor"><rect x="101.6" y="574.7" width="79.4" height="3.4" fill="#8c8c8c" />
<rect x="101.6" y="574.7" width="79.4" height="1.3" fill="#a4a4a4" />
<path d="M123.4,570.8Q123.4,569.6 125,569.6H130.6Q132,571.1999999999999 134,571.1999999999999H149.6Q151.6,571.1999999999999 153,569.6H158.6Q160.4,569.6 160.4,570.8V582.0Q160.4,583.1999999999999 158.6,583.1999999999999H153Q151.6,581.6 149.6,581.6H134Q132,581.6 130.6,583.1999999999999H125Q123.4,583.1999999999999 123.4,582.0z" fill="#e6c98c"/>
<rect x="123.4" y="569.8" width="37.0" height="3.0" fill="#f2dfae" opacity="0.8"/>
<rect x="128.6" y="569.8" width="3.2" height="13.2" fill="#d22a20" />
<rect x="135.6" y="571.2" width="3.4" height="10.4" fill="#d22a20" />
<rect x="142.6" y="571.2" width="3.8" height="10.4" fill="#8a2f1c" />
<rect x="152.4" y="570.0" width="3.0" height="12.8" fill="#c9a23a" /></g>
<g id="dcjack"><rect x="164.0" y="875.0" width="5.2" height="21.0" fill="#2a2a2a" rx="2"/>
<rect x="104.0" y="863.2" width="61.8" height="49.2" fill="#222" />
<defs><linearGradient id="jg" x1="0" y1="0" x2="0" y2="1"><stop offset="0" stop-color="#2e2e2e"/><stop offset="0.5" stop-color="#1c1c1c"/><stop offset="0.9" stop-color="#141414"/><stop offset="1" stop-color="#050505"/></linearGradient></defs>
<rect x="104.0" y="863.2" width="61.8" height="49.2" fill="url(#jg)" />
<rect x="61.8" y="861.0" width="43.2" height="53.6" fill="#1b1b1b" />
<rect x="86.0" y="861.0" width="19.0" height="53.6" fill="#242424" />
<ellipse cx="75.2" cy="887.9" rx="10" ry="21" fill="#050505" stroke="#6e6e6e" stroke-width="1.3"/>
<rect x="73.4" y="883.0" width="10.6" height="10.6" fill="#8a8a8a" rx="2"/>
<rect x="77.0" y="884.4" width="7.0" height="7.8" fill="#a8a8a8" /></g>
<g id="rtc"><rect x="998.6" y="82.2" width="206.6" height="185.2" fill="#1f70b5" />
<rect x="1023.4" y="83.6" width="131.8" height="15.4" fill="none" stroke="#dfe9f3" stroke-width="1.2"/>
<circle cx="1033.2" cy="90.6" r="6.0" fill="#d9d6cd" />
<circle cx="1051.8" cy="90.6" r="6.0" fill="#d9d6cd" />
<circle cx="1070.4" cy="90.6" r="6.0" fill="#d9d6cd" />
<circle cx="1089.0" cy="90.6" r="6.0" fill="#d9d6cd" />
<circle cx="1107.6" cy="90.6" r="6.0" fill="#d9d6cd" />
<circle cx="1126.2" cy="90.6" r="6.0" fill="#d9d6cd" />
<circle cx="1144.8" cy="90.6" r="6.0" fill="#d9d6cd" />
<rect x="1055.4" y="252.8" width="93.0" height="15.6" fill="none" stroke="#dfe9f3" stroke-width="1.2"/>
<circle cx="1064.8" cy="260.2" r="6.0" fill="#d9d6cd" />
<circle cx="1083.0" cy="260.2" r="6.0" fill="#d9d6cd" />
<circle cx="1101.4" cy="260.2" r="6.0" fill="#d9d6cd" />
<circle cx="1120.0" cy="260.2" r="6.0" fill="#d9d6cd" />
<circle cx="1138.5" cy="260.2" r="6.0" fill="#d9d6cd" />
<circle cx="1006.6" cy="247.0" r="6.0" fill="#d9d6cd" />
<circle cx="1021.8" cy="247.0" r="6.0" fill="#d9d6cd" />
<circle cx="1036.8" cy="247.0" r="6.0" fill="#d9d6cd" />
<ellipse cx="1186.2" cy="95.4" rx="12.8" ry="12" fill="#fff"/>
<ellipse cx="1186" cy="252.6" rx="12.8" ry="12" fill="#fff"/>
<text transform="translate(1037.2,102.9) rotate(-90) scale(1.009,1)" x="-13.73" font-family="'DejaVu Sans', 'Liberation Sans', sans-serif" font-size="10" font-weight="normal" fill="#e4edf6" letter-spacing="0.08" >SQ</text>
<text transform="translate(1055.8,102.9) rotate(-90) scale(1.062,1)" x="-13.99" font-family="'DejaVu Sans', 'Liberation Sans', sans-serif" font-size="10" font-weight="normal" fill="#e4edf6" letter-spacing="0.49" >DS</text>
<text transform="translate(1074.4,102.9) rotate(-90) scale(0.980,1)" x="-18.61" font-family="'DejaVu Sans', 'Liberation Sans', sans-serif" font-size="10" font-weight="normal" fill="#e4edf6" letter-spacing="-0.12" >SCL</text>
<text transform="translate(1093.0,102.9) rotate(-90) scale(0.965,1)" x="-20.12" font-family="'DejaVu Sans', 'Liberation Sans', sans-serif" font-size="10" font-weight="normal" fill="#e4edf6" letter-spacing="-0.24" >SDA</text>
<text transform="translate(1111.6,102.9) rotate(-90) scale(0.990,1)" x="-20.11" font-family="'DejaVu Sans', 'Liberation Sans', sans-serif" font-size="10" font-weight="normal" fill="#e4edf6" letter-spacing="-0.07" >VCC</text>
<text transform="translate(1130.2,102.9) rotate(-90) scale(0.989,1)" x="-22.19" font-family="'DejaVu Sans', 'Liberation Sans', sans-serif" font-size="10" font-weight="normal" fill="#e4edf6" letter-spacing="-0.08" >GND</text>
<text transform="translate(1148.8,102.9) rotate(-90) scale(0.985,1)" x="-18.87" font-family="'DejaVu Sans', 'Liberation Sans', sans-serif" font-size="10" font-weight="normal" fill="#e4edf6" letter-spacing="-0.09" >BAT</text>
<text transform="translate(1068.8,248.6) rotate(-90) scale(1.062,1)" x="-1.00" font-family="'DejaVu Sans', 'Liberation Sans', sans-serif" font-size="10" font-weight="normal" fill="#e4edf6" letter-spacing="0.49" >DS</text>
<text transform="translate(1086.8,248.6) rotate(-90) scale(0.980,1)" x="-0.65" font-family="'DejaVu Sans', 'Liberation Sans', sans-serif" font-size="10" font-weight="normal" fill="#e4edf6" letter-spacing="-0.12" >SCL</text>
<text transform="translate(1105.2,248.6) rotate(-90) scale(0.965,1)" x="-0.65" font-family="'DejaVu Sans', 'Liberation Sans', sans-serif" font-size="10" font-weight="normal" fill="#e4edf6" letter-spacing="-0.24" >SDA</text>
<text transform="translate(1123.8,248.6) rotate(-90) scale(0.990,1)" x="-0.10" font-family="'DejaVu Sans', 'Liberation Sans', sans-serif" font-size="10" font-weight="normal" fill="#e4edf6" letter-spacing="-0.07" >VCC</text>
<text transform="translate(1142.4,248.6) rotate(-90) scale(0.989,1)" x="-0.55" font-family="'DejaVu Sans', 'Liberation Sans', sans-serif" font-size="10" font-weight="normal" fill="#e4edf6" letter-spacing="-0.08" >GND</text>
<text transform="translate(1011.6,234.6) rotate(-90) scale(0.955,1)" x="0.06" font-family="'DejaVu Sans', 'Liberation Sans', sans-serif" font-size="12.4" font-weight="normal" fill="#e4edf6" letter-spacing="-0.23" >Tiny RTC</text>
<rect x="1025.2" y="127.4" width="12.2" height="25.4" fill="none" stroke="#c9dcee" stroke-width="1"/><rect x="1027.2" y="129.6" width="8.2" height="21.0" fill="#fff" /><rect x="1027.2" y="132.8" width="8.2" height="14.6" fill="#e8771f" />
<rect x="1027.2" y="146.0" width="8.2" height="2.4" fill="#000" />
<rect x="1047.0" y="127.4" width="12.2" height="25.4" fill="none" stroke="#c9dcee" stroke-width="1"/><rect x="1049.0" y="129.6" width="8.2" height="21.0" fill="#fff" /><rect x="1049.0" y="132.8" width="8.2" height="14.6" fill="#000" />
<rect x="1065.4" y="127.4" width="12.2" height="25.4" fill="none" stroke="#c9dcee" stroke-width="1"/><rect x="1067.4" y="129.6" width="8.2" height="21.0" fill="#fff" /><rect x="1067.4" y="132.8" width="8.2" height="14.6" fill="#000" />
<rect x="1084.2" y="126.4" width="11.4" height="25.4" fill="none" stroke="#c9dcee" stroke-width="1"/><rect x="1086.2" y="128.6" width="7.4" height="21.0" fill="#fff" /><rect x="1086.2" y="131.8" width="7.4" height="14.6" fill="#000" />
<rect x="1030.6" y="163.0" width="27.8" height="11.6" fill="none" stroke="#c9dcee" stroke-width="1"/><rect x="1032.8" y="165.0" width="23.4" height="7.6" fill="#fff" /><rect x="1036.0" y="165.0" width="17.0" height="7.6" fill="#000" />
<rect x="1066.4" y="163.8" width="28.6" height="11.6" fill="none" stroke="#c9dcee" stroke-width="1"/><rect x="1068.6" y="165.8" width="24.2" height="7.6" fill="#fff" /><rect x="1071.8" y="165.8" width="17.8" height="7.6" fill="#000" />
<defs><linearGradient id="xg" x1="0" y1="0" x2="0" y2="1"><stop offset="0" stop-color="#f4f4f4"/><stop offset="0.3" stop-color="#c8c8c8"/><stop offset="0.55" stop-color="#7d7d7d"/><stop offset="0.75" stop-color="#cfcfcf"/><stop offset="1" stop-color="#f0f0f0"/></linearGradient></defs>
<rect x="1024.8" y="187.0" width="60.6" height="18.6" fill="url(#xg)" rx="1.5"/>
<rect x="1083.6" y="187.0" width="2.0" height="18.6" fill="#8c8c8c" />
<circle cx="1100.0" cy="196.6" r="10.0" fill="none" stroke="#fff" stroke-width="2.2"/>
<rect x="1085.4" y="192.2" width="13.6" height="2.0" fill="#d0d0d0" />
<rect x="1085.4" y="198.8" width="13.6" height="2.0" fill="#d0d0d0" />
<circle cx="1100.0" cy="193.4" r="2.4" fill="#e8e8e8" />
<circle cx="1100.0" cy="199.8" r="2.4" fill="#e8e8e8" />
<rect x="1128.0" y="131.9" width="37.4" height="2.6" fill="#9fb2c4" />
<rect x="1128.0" y="139.2" width="37.4" height="2.6" fill="#9fb2c4" />
<rect x="1128.0" y="146.6" width="37.4" height="2.6" fill="#9fb2c4" />
<rect x="1128.0" y="153.9" width="37.4" height="2.6" fill="#9fb2c4" />
<rect x="1135.2" y="130.3" width="23.0" height="27.2" fill="#2d2d2d" />
<circle cx="1154.4" cy="153.7" r="1.5" fill="#555" />
<rect x="1128.0" y="192.8" width="37.4" height="2.6" fill="#9fb2c4" />
<rect x="1128.0" y="200.1" width="37.4" height="2.6" fill="#9fb2c4" />
<rect x="1128.0" y="207.5" width="37.4" height="2.6" fill="#9fb2c4" />
<rect x="1128.0" y="214.8" width="37.4" height="2.6" fill="#9fb2c4" />
<rect x="1135.2" y="191.2" width="23.0" height="27.2" fill="#2d2d2d" />
<circle cx="1154.4" cy="214.6" r="1.5" fill="#555" />
<rect x="1132.2" y="161.0" width="28.4" height="11.2" fill="none" stroke="#c9dcee" stroke-width="1"/>
<rect x="1134.4" y="163.0" width="24.0" height="7.2" fill="#fff" />
<rect x="1137.6" y="163.0" width="17.6" height="7.2" fill="#f3c11b" />
<rect x="1132.2" y="175.2" width="28.4" height="11.2" fill="none" stroke="#c9dcee" stroke-width="1"/>
<rect x="1134.4" y="177.2" width="24.0" height="7.2" fill="#fff" />
<rect x="1137.6" y="177.2" width="17.6" height="7.2" fill="#f3c11b" />
<rect x="1179.0" y="130.0" width="11.8" height="26.8" fill="none" stroke="#c9dcee" stroke-width="1"/><rect x="1181.0" y="132.2" width="7.8" height="22.4" fill="#fff" /><rect x="1181.0" y="135.4" width="7.8" height="16.0" fill="#000" />
<rect x="1179.0" y="191.0" width="11.8" height="26.8" fill="none" stroke="#c9dcee" stroke-width="1"/><rect x="1181.0" y="193.2" width="7.8" height="22.4" fill="#fff" /><rect x="1181.0" y="196.4" width="7.8" height="16.0" fill="#000" /></g>
<g id="r307"><rect x="754.2" y="724.2" width="147.8" height="187.6" fill="#000" />
<rect x="756.4" y="726.2" width="143.6" height="183.6" fill="#0f0f0f" />
<path d="M758.2,727.6V909.6H899.6V727.6" fill="none" stroke="#9a9a9a" stroke-width="0.9"/>
<text transform="translate(773.4,710.6) rotate(-90) scale(1.000,1)" x="-2.98" font-family="'Liberation Mono', 'DejaVu Sans Mono', monospace" font-size="9.6" font-weight="normal" fill="#0000ff" letter-spacing="0.00" >1</text>
<text transform="translate(794.5,710.6) rotate(-90) scale(1.000,1)" x="-2.88" font-family="'Liberation Mono', 'DejaVu Sans Mono', monospace" font-size="9.6" font-weight="normal" fill="#0000ff" letter-spacing="0.00" >2</text>
<text transform="translate(815.4,710.6) rotate(-90) scale(1.000,1)" x="-2.88" font-family="'Liberation Mono', 'DejaVu Sans Mono', monospace" font-size="9.6" font-weight="normal" fill="#0000ff" letter-spacing="0.00" >3</text>
<text transform="translate(835.6,710.6) rotate(-90) scale(1.000,1)" x="-2.88" font-family="'Liberation Mono', 'DejaVu Sans Mono', monospace" font-size="9.6" font-weight="normal" fill="#0000ff" letter-spacing="0.00" >4</text>
<text transform="translate(856.6,710.6) rotate(-90) scale(1.000,1)" x="-2.88" font-family="'Liberation Mono', 'DejaVu Sans Mono', monospace" font-size="9.6" font-weight="normal" fill="#0000ff" letter-spacing="0.00" >5</text>
<text transform="translate(877.4,710.6) rotate(-90) scale(1.000,1)" x="-2.93" font-family="'Liberation Mono', 'DejaVu Sans Mono', monospace" font-size="9.6" font-weight="normal" fill="#0000ff" letter-spacing="0.00" >6</text>
<ellipse cx="767.3" cy="736.8" rx="6.7" ry="7.5" fill="#7a776c" stroke="#a19e93" stroke-width="1"/><path d="M763.6999999999999,736.8H770.9M767.3,732.5999999999999V741.0" stroke="#a6a08c" stroke-width="2" fill="none" stroke-linecap="round"/><ellipse cx="767.3" cy="736.8" rx="4.4" ry="5" fill="none" stroke="#66645c" stroke-width="0.8"/>
<ellipse cx="890.4" cy="736.8" rx="6.7" ry="7.5" fill="#7a776c" stroke="#a19e93" stroke-width="1"/><path d="M886.8,736.8H894.0M890.4,732.5999999999999V741.0" stroke="#a6a08c" stroke-width="2" fill="none" stroke-linecap="round"/><ellipse cx="890.4" cy="736.8" rx="4.4" ry="5" fill="none" stroke="#66645c" stroke-width="0.8"/>
<ellipse cx="766.2" cy="899.6" rx="6.7" ry="7.5" fill="#7a776c" stroke="#a19e93" stroke-width="1"/><path d="M762.6,899.6H769.8000000000001M766.2,895.4V903.8000000000001" stroke="#a6a08c" stroke-width="2" fill="none" stroke-linecap="round"/><ellipse cx="766.2" cy="899.6" rx="4.4" ry="5" fill="none" stroke="#66645c" stroke-width="0.8"/>
<ellipse cx="890" cy="899.6" rx="6.7" ry="7.5" fill="#7a776c" stroke="#a19e93" stroke-width="1"/><path d="M886.4,899.6H893.6M890,895.4V903.8000000000001" stroke="#a6a08c" stroke-width="2" fill="none" stroke-linecap="round"/><ellipse cx="890" cy="899.6" rx="4.4" ry="5" fill="none" stroke="#66645c" stroke-width="0.8"/>
<path d="M778.6,731.4H786.6Q786.6,745 780.4,750.2H785.2V757.2H769.6V750.2Q777,745 778.6,731.4z" fill="#b4b4b0"/>
<path d="M778.6,731.4H782Q781,744 774,750.2H769.6Q777,745 778.6,731.4z" fill="#e2e2de"/>
<rect x="769.6" y="753.6" width="15.6" height="3.6" fill="#8a8a86" />
<path d="M879.6,731.4H871.6Q871.6,745 877.8,750.2H873V757.2H888.6V750.2Q881.2,745 879.6,731.4z" fill="#a4a4a0"/>
<path d="M879.6,731.4H876.2Q877.2,744 884.2,750.2H888.6Q881.2,745 879.6,731.4z" fill="#5c5c58"/>
<rect x="873.0" y="753.6" width="15.6" height="3.6" fill="#c4c4c0" />
<text transform="translate(796.4,743.2) scale(0.727,1)" x="-4.69" font-family="'Liberation Mono', 'DejaVu Sans Mono', monospace" font-size="15" font-weight="bold" fill="#d8d8d8" letter-spacing="0.00" >1</text>
<rect x="806.2" y="729.6" width="11.4" height="13.0" rx="0.8" fill="none" stroke="#e6e6e6" stroke-width="1"/>
<rect x="819.2" y="729.6" width="10.6" height="13.0" rx="0.8" fill="none" stroke="#e6e6e6" stroke-width="1"/>
<rect x="808.6" y="732.0" width="7.4" height="8.4" fill="#8d8d8d" />
<rect x="820.8" y="732.0" width="7.4" height="8.4" fill="#8d8d8d" />
<text x="831.20" y="740.4" font-family="'Liberation Mono', 'DejaVu Sans Mono', monospace" font-size="9.2" font-weight="normal" fill="#c8c8c8" letter-spacing="-0.28" >3.3V</text>
<rect x="794.6" y="746.2" width="66.2" height="13.8" rx="0.8" fill="none" stroke="#e6e6e6" stroke-width="1"/>
<rect x="804.0" y="748.6" width="2.6" height="10.4" fill="#8f8f8f" />
<rect x="813.1" y="748.6" width="2.6" height="10.4" fill="#8f8f8f" />
<rect x="822.1" y="748.6" width="2.6" height="10.4" fill="#8f8f8f" />
<rect x="831.1" y="748.6" width="2.6" height="10.4" fill="#8f8f8f" />
<rect x="840.2" y="748.6" width="2.6" height="10.4" fill="#8f8f8f" />
<rect x="849.2" y="748.6" width="2.6" height="10.4" fill="#8f8f8f" />
<rect x="772.8" y="765.6" width="21.0" height="24.0" rx="0.8" fill="none" stroke="#e6e6e6" stroke-width="1"/>
<rect x="862.4" y="765.6" width="21.4" height="24.0" rx="0.8" fill="none" stroke="#e6e6e6" stroke-width="1"/>
<rect x="775.6" y="768.2" width="16.4" height="19.0" fill="#7c7c7a" />
<rect x="864.6" y="768.2" width="16.6" height="19.0" fill="#7c7c7a" />
<circle cx="783.0" cy="778.0" r="5.0" fill="#c8c6c0" />
<circle cx="873.0" cy="778.0" r="5.0" fill="#c8c6c0" />
<path d="M795,760.6H788Q783.8,760.6 783.8,765V777Q783.8,781 788,781H795z" fill="#e3d9c4"/>
<path d="M861,760.6H867.4Q871.6,760.6 871.6,765V777Q871.6,781 867.4,781H861z" fill="#e3d9c4"/>
<rect x="789.4" y="765.4" width="4.0" height="13.6" fill="#bdb4a2" />
<rect x="862.4" y="765.4" width="4.0" height="13.6" fill="#bdb4a2" />
<rect x="794.2" y="756.8" width="67.4" height="35.8" fill="#e8dfcb" rx="1.2"/>
<rect x="794.2" y="756.8" width="67.4" height="2.6" fill="#f3ecdc" />
<rect x="798.6" y="777.6" width="58.8" height="15.0" fill="#d2c7b0" />
<rect x="812.0" y="780.4" width="33.0" height="12.2" fill="#dcd2bd" />
<rect x="794.2" y="790.0" width="67.4" height="2.8" fill="#efe7d6" />
<rect x="809.0" y="777.6" width="2.2" height="15.2" fill="#111" />
<rect x="845.0" y="777.6" width="2.2" height="15.2" fill="#111" />
<rect x="806.4" y="777.2" width="7.2" height="1.8" fill="#111" />
<rect x="842.4" y="777.2" width="7.2" height="1.8" fill="#111" />
<text transform="translate(760.4,777.8) rotate(90) scale(1.047,1)" x="-11.60" font-family="'Liberation Mono', 'DejaVu Sans Mono', monospace" font-size="9.4" font-weight="bold" fill="#e6e6e6" letter-spacing="0.21" >R307</text>
<text transform="translate(771.6,809.6) rotate(-90) scale(1.081,1)" x="-0.47" font-family="'Liberation Mono', 'DejaVu Sans Mono', monospace" font-size="8.6" font-weight="normal" fill="#e0e0e0" letter-spacing="0.36" >C16</text>
<text transform="translate(783.0,809.6) rotate(-90) scale(1.091,1)" x="-0.69" font-family="'Liberation Mono', 'DejaVu Sans Mono', monospace" font-size="8.6" font-weight="normal" fill="#e0e0e0" letter-spacing="0.40" >R13</text>
<text transform="translate(794.6,809.6) rotate(-90) scale(1.085,1)" x="-0.69" font-family="'Liberation Mono', 'DejaVu Sans Mono', monospace" font-size="8.6" font-weight="normal" fill="#e0e0e0" letter-spacing="0.38" >R14</text>
<rect x="798.8" y="796.6" width="22.6" height="12.2" rx="1" fill="none" stroke="#e6e6e6" stroke-width="1"/>
<rect x="801.4" y="798.6" width="17.4" height="8.2" fill="#8a8a88" rx="1"/>
<rect x="806.8" y="799.2" width="6.6" height="7.0" fill="#5a5a58" />
<rect x="823.4" y="796.6" width="21.0" height="12.2" rx="1" fill="none" stroke="#e6e6e6" stroke-width="1"/>
<rect x="826.0" y="798.6" width="15.8" height="8.2" fill="#8a8a88" rx="1"/>
<rect x="831.4" y="799.2" width="5.0" height="7.0" fill="#5a5a58" />
<rect x="846.2" y="796.6" width="22.8" height="12.2" rx="1" fill="none" stroke="#e6e6e6" stroke-width="1"/>
<rect x="848.8" y="798.6" width="17.6" height="8.2" fill="#8a8a88" rx="1"/>
<rect x="854.2" y="799.2" width="6.8" height="7.0" fill="#5a5a58" />
<rect x="871.6" y="796.6" width="22.6" height="12.2" rx="5" fill="none" stroke="#e6e6e6" stroke-width="1"/>
<rect x="874.2" y="798.6" width="17.4" height="8.2" fill="#8a8a88" rx="1"/>
<rect x="879.6" y="799.2" width="6.6" height="7.0" fill="#5a5a58" />
<rect x="800.0" y="810.8" width="22.8" height="10.6" rx="4" fill="none" stroke="#e6e6e6" stroke-width="1"/>
<rect x="802.6" y="812.6" width="17.6" height="7.0" fill="#8a8a88" rx="1"/>
<rect x="808.6" y="813.0" width="5.8" height="6.2" fill="#4c443c" />
<rect x="762.4" y="811.8" width="11.0" height="24.0" rx="3" fill="none" stroke="#e6e6e6" stroke-width="1"/>
<rect x="764.4" y="814.0" width="7.0" height="19.6" fill="#a9a9a6" rx="1"/>
<rect x="764.4" y="820.0" width="7.0" height="7.6" fill="#5a3a2a" />
<rect x="774.8" y="811.8" width="10.4" height="24.0" rx="0.8" fill="none" stroke="#e6e6e6" stroke-width="1"/>
<rect x="776.8" y="814.0" width="6.4" height="19.6" fill="#a9a9a6" rx="1"/>
<rect x="776.8" y="820.0" width="6.4" height="7.6" fill="#222" />
<rect x="786.4" y="811.8" width="11.0" height="24.0" rx="0.8" fill="none" stroke="#e6e6e6" stroke-width="1"/>
<rect x="788.4" y="814.0" width="7.0" height="19.6" fill="#a9a9a6" rx="1"/>
<rect x="788.4" y="820.0" width="7.0" height="7.6" fill="#222" />
<rect x="778.6" y="842.6" width="8.4" height="6.2" fill="#c2c2c0" />
<rect x="778.6" y="857.4" width="8.4" height="6.6" fill="#c2c2c0" />
<rect x="795.4" y="850.4" width="5.4" height="6.0" fill="#c2c2c0" />
<rect x="785.8" y="841.4" width="10.6" height="22.2" fill="#2b2b2b" />
<rect x="780.0" y="852.4" width="1.6" height="2.0" fill="#ddd" />
<circle cx="764.6" cy="850.9" r="3.2" fill="#0a0a0a" stroke="#c19a4e" stroke-width="2"/>
<circle cx="764.6" cy="860.8" r="3.2" fill="#0a0a0a" stroke="#c19a4e" stroke-width="2"/>
<circle cx="764.6" cy="870.6" r="3.2" fill="#0a0a0a" stroke="#c19a4e" stroke-width="2"/>
<circle cx="764.6" cy="880.3" r="3.2" fill="#0a0a0a" stroke="#c19a4e" stroke-width="2"/>
<rect x="776.6" y="866.0" width="22.6" height="39.4" rx="0.8" fill="none" stroke="#e6e6e6" stroke-width="1"/>
<path d="M776.6,878.8H799.2M776.6,891.4H799.2" stroke="#e6e6e6" stroke-width="1" fill="none"/>
<rect x="778.8" y="868.0" width="18.8" height="8.6" fill="#b4b4b2" rx="1"/>
<rect x="784.6" y="868.8" width="7.8" height="7.0" fill="#1e1e1e" />
<rect x="778.8" y="881.0" width="18.8" height="8.6" fill="#b4b4b2" rx="1"/>
<rect x="784.6" y="881.8" width="7.8" height="7.0" fill="#1e1e1e" />
<rect x="779.0" y="893.6" width="8.0" height="9.0" fill="#bcbcba" />
<rect x="791.2" y="893.6" width="7.4" height="9.0" fill="#bcbcba" />
<text x="802.38" y="901.4" font-family="'Liberation Mono', 'DejaVu Sans Mono', monospace" font-size="9.6" font-weight="bold" fill="#e6e6e6" letter-spacing="0.18" >R3</text>
<circle cx="804.9" cy="829.8" r="2.3" fill="#050505" stroke="#2a2a2a" stroke-width="0.8"/>
<circle cx="804.9" cy="880.3" r="2.3" fill="#050505" stroke="#2a2a2a" stroke-width="0.8"/>
<path d="M830.20,816V903.2M812.4,836.00H891.4M833.12,816V903.2M812.4,839.20H891.4M836.04,816V903.2M812.4,842.40H891.4M838.96,816V903.2M812.4,845.60H891.4M841.88,816V903.2M812.4,848.80H891.4M844.80,816V903.2M812.4,852.00H891.4M847.72,816V903.2M812.4,855.20H891.4M850.64,816V903.2M812.4,858.40H891.4M853.56,816V903.2M812.4,861.60H891.4M856.48,816V903.2M812.4,864.80H891.4M859.40,816V903.2M812.4,868.00H891.4M862.32,816V903.2M812.4,871.20H891.4M865.24,816V903.2M812.4,874.40H891.4M868.16,816V903.2M812.4,877.60H891.4M871.08,816V903.2M812.4,880.80H891.4M874.00,816V903.2M812.4,884.00H891.4" stroke="#c9c9c9" stroke-width="1.5" fill="none"/>
<path d="M830,832.4H875.4Q877.2,832.4 877.2,834.2V884.6Q877.2,886.4 875.4,886.4H829Q827.2,886.4 827.2,884.6V835.2z" fill="#3a3a3a"/>
<rect x="827.2" y="884.6" width="50.0" height="2.2" fill="#555" />
<circle cx="836.0" cy="842.0" r="2.9" fill="#242424" />
<text transform="translate(850.4,860.0) rotate(90) scale(0.971,1)" x="-12.36" font-family="'Liberation Mono', 'DejaVu Sans Mono', monospace" font-size="8.6" font-weight="normal" fill="#686868" letter-spacing="-0.13" >AS606</text>
<text transform="translate(842.0,860.0) rotate(90) scale(0.983,1)" x="-15.44" font-family="'Liberation Mono', 'DejaVu Sans Mono', monospace" font-size="8.6" font-weight="normal" fill="#686868" letter-spacing="-0.07" >HA8T2D</text></g>
<g id="oled"><rect x="965.4" y="678.8" width="216.0" height="227.6" fill="#17607f" />
<rect x="965.4" y="678.8" width="216.0" height="1.2" fill="#2a7596" />
<ellipse cx="982" cy="695.7" rx="13.6" ry="14.3" fill="#fff" stroke="#f5b616" stroke-width="3.1"/>
<ellipse cx="1164.9" cy="695.7" rx="13.6" ry="14.3" fill="#fff" stroke="#f5b616" stroke-width="3.1"/>
<ellipse cx="982" cy="889.9" rx="13.6" ry="14.3" fill="#fff" stroke="#f5b616" stroke-width="3.1"/>
<ellipse cx="1164.9" cy="889.9" rx="13.6" ry="14.3" fill="#fff" stroke="#f5b616" stroke-width="3.1"/>
<circle cx="1042.9" cy="695.3" r="5.9" fill="#fff" stroke="#f5b616" stroke-width="3"/>
<circle cx="1063.1" cy="695.3" r="5.9" fill="#fff" stroke="#f5b616" stroke-width="3"/>
<circle cx="1083.4" cy="695.3" r="5.9" fill="#fff" stroke="#f5b616" stroke-width="3"/>
<circle cx="1103.6" cy="695.3" r="5.9" fill="#fff" stroke="#f5b616" stroke-width="3"/>
<text x="1035.23" y="711.4" font-family="'DejaVu Sans', 'Liberation Sans', sans-serif" font-size="7.6" font-weight="normal" fill="#e6eef2" letter-spacing="-1.03" >GND</text>
<text x="1055.77" y="711.4" font-family="'DejaVu Sans', 'Liberation Sans', sans-serif" font-size="7.6" font-weight="normal" fill="#e6eef2" letter-spacing="-0.94" >VDD</text>
<text x="1075.66" y="711.4" font-family="'DejaVu Sans', 'Liberation Sans', sans-serif" font-size="7.6" font-weight="normal" fill="#e6eef2" letter-spacing="-0.14" >SCK</text>
<text x="1095.86" y="711.4" font-family="'DejaVu Sans', 'Liberation Sans', sans-serif" font-size="7.6" font-weight="normal" fill="#e6eef2" letter-spacing="-0.33" >SDA</text>
<text x="1026.24" y="698.4" font-family="'DejaVu Sans', 'Liberation Sans', sans-serif" font-size="6.6" font-weight="normal" fill="#e6eef2" letter-spacing="0.00" >1</text>
<text x="1115.92" y="698.4" font-family="'DejaVu Sans', 'Liberation Sans', sans-serif" font-size="6.6" font-weight="normal" fill="#e6eef2" letter-spacing="0.00" >4</text>
<rect x="966.4" y="836.0" width="214.0" height="38.4" fill="#403e40" />
<rect x="966.4" y="836.0" width="214.0" height="9.2" fill="#2b292b" />
<rect x="1022.2" y="836.0" width="102.2" height="38.4" fill="#2f2f2f" />
<rect x="1022.2" y="836.0" width="102.2" height="9.2" fill="#222022" />
<path d="M1019.8,906.6V893Q1019.8,889.8 1023,889.8H1123.8Q1127,889.8 1127,893V906.6z" fill="#fff"/>
<path d="M1022.2,874H1124.4V874.4Q1118.6,875 1118.6,881V902H1027.6V881Q1027.6,875 1022.2,874.4z" fill="#000"/>
<path d="M1026,884Q1026,879.4 1028.8,878.6V902H1026z" fill="#e8891f"/>
<path d="M1120.2,884Q1120.2,879.4 1117.4,878.6V902H1120.2z" fill="#e8891f"/>
<rect x="966.4" y="712.0" width="214.0" height="125.6" fill="#000" />
<defs><linearGradient id="og" x1="0" y1="0" x2="1" y2="0.4"><stop offset="0" stop-color="#383838"/><stop offset="0.5" stop-color="#313131"/><stop offset="1" stop-color="#2c2c2c"/></linearGradient></defs>
<rect x="974.8" y="719.8" width="197.2" height="108.6" fill="url(#og)" />
<path d="M1068,719.8H1172V828.4H1126Q1108,806 1092,772Q1078,744 1068,719.8z" fill="#252425"/></g>
<g id="labels"><text x="458.45" y="204.7" font-family="'Liberation Sans', Arial, sans-serif" font-size="18" font-weight="normal" fill="#000080" letter-spacing="0.90" stroke="#000080" stroke-width="0.25">U2</text>
<text x="373.76" y="227.6" font-family="'Liberation Sans', Arial, sans-serif" font-size="18" font-weight="normal" fill="#000080" letter-spacing="0.05" stroke="#000080" stroke-width="0.25">ESP-WROOM-32-DEV</text>
<text x="1082.05" y="28.6" font-family="'Liberation Sans', Arial, sans-serif" font-size="18" font-weight="normal" fill="#000080" letter-spacing="0.32" stroke="#000080" stroke-width="0.25">U3</text>
<text x="1026.56" y="47.2" font-family="'Liberation Sans', Arial, sans-serif" font-size="18" font-weight="normal" fill="#000080" letter-spacing="0.16" stroke="#000080" stroke-width="0.25">DS1307/24C32</text>
<text x="117.85" y="835.6" font-family="'Liberation Sans', Arial, sans-serif" font-size="18" font-weight="normal" fill="#000080" letter-spacing="0.34" stroke="#000080" stroke-width="0.25">U4</text>
<text x="83.96" y="854.6" font-family="'Liberation Sans', Arial, sans-serif" font-size="18" font-weight="normal" fill="#000080" letter-spacing="-0.49" stroke="#000080" stroke-width="0.25">DC JACK</text>
<text x="1070.36" y="923.6" font-family="'Liberation Sans', Arial, sans-serif" font-size="18" font-weight="normal" fill="#000080" letter-spacing="-1.90" stroke="#000080" stroke-width="0.25">D1</text>
<text x="950.56" y="947.4" font-family="'Liberation Sans', Arial, sans-serif" font-size="18" font-weight="normal" fill="#000080" letter-spacing="0.10" stroke="#000080" stroke-width="0.25">DISPLAY-OLED-128X64-I2C</text>
<text x="142.01" y="337.6" font-family="'Liberation Sans', Arial, sans-serif" font-size="17.4" font-weight="normal" fill="#000080" letter-spacing="-0.17" stroke="#000080" stroke-width="0.2">Buzzer</text>
<text x="73.02" y="481.4" font-family="'Liberation Sans', Arial, sans-serif" font-size="17.4" font-weight="normal" fill="#000080" letter-spacing="-0.07" stroke="#000080" stroke-width="0.2">S8050</text>
<text x="122.33" y="597.2" font-family="'Liberation Sans', Arial, sans-serif" font-size="17.4" font-weight="normal" fill="#000080" letter-spacing="-0.38" stroke="#000080" stroke-width="0.2">220R</text>
<text x="817.30" y="925.6" font-family="'Liberation Sans', Arial, sans-serif" font-size="17.4" font-weight="normal" fill="#000080" letter-spacing="-2.30" stroke="#000080" stroke-width="0.2">U1</text>
<text x="776.51" y="946.6" font-family="'Liberation Sans', Arial, sans-serif" font-size="17.4" font-weight="normal" fill="#000080" letter-spacing="0.03" stroke="#000080" stroke-width="0.2">R307 Module</text></g>
<g id="watermark" pointer-events="none">
<g opacity="0.08"><g transform="translate(-152.1,610.2) rotate(-28.55) scale(4.307)"><mask id="wmpin" maskUnits="userSpaceOnUse" x="20" y="24" width="92" height="96"><rect x="20" y="24" width="92" height="96" fill="#fff"/><rect x="38" y="42" width="56.6" height="59.2" rx="13" fill="#000"/></mask>
<mask id="wmcd" maskUnits="userSpaceOnUse" x="40" y="44" width="54" height="56"><rect x="40" y="44" width="54" height="56" fill="#fff"/><text x="48.6" y="76.4" font-family="'Liberation Sans', Arial, sans-serif" font-weight="bold" font-size="29.4" stroke-width="1.7" stroke-linejoin="round" fill="#000" stroke="#000">C</text><text x="58.8" y="87.6" font-family="'Liberation Sans', Arial, sans-serif" font-weight="bold" font-size="33.2" fill="#000" stroke="#000" stroke-width="0.4">D</text></mask>
<g mask="url(#wmpin)"><g stroke="#000" stroke-width="6.6" stroke-linecap="round"><line x1="52.1" y1="31.8" x2="52.1" y2="111.4"/><line x1="66.3" y1="31.8" x2="66.3" y2="111.4"/><line x1="80.5" y1="31.8" x2="80.5" y2="111.4"/><line x1="27.3" y1="57.1" x2="105" y2="57.1"/><line x1="27.3" y1="71.6" x2="105" y2="71.6"/><line x1="27.3" y1="86.1" x2="105" y2="86.1"/></g></g>
<path fill-rule="evenodd" fill="#000" d="M50.6,39.6H82A15,15 0 0 1 97,54.6V88.6A15,15 0 0 1 82,103.6H50.6A15,15 0 0 1 35.6,88.6V54.6A15,15 0 0 1 50.6,39.6zM51.6,44.6A11,11 0 0 0 40.6,55.6V87.6A11,11 0 0 0 51.6,98.6H81A11,11 0 0 0 92,87.6V55.6A11,11 0 0 0 81,44.6z"/>
<rect x="44.6" y="48.8" width="43.4" height="45.6" rx="7" fill="#000" mask="url(#wmcd)"/></g><g transform="translate(-143.65,604.66) rotate(-28.0) scale(4.281)"><rect x="122.55" y="28.8" width="1.15" height="85.4" fill="#000"/><text transform="translate(137.4,71.4) scale(0.994,1)" font-family="'Liberation Sans', Arial, sans-serif" font-weight="bold" font-size="51.2" fill="#000">CIRCUIT</text></g></g>
<g opacity="0.115"><g transform="translate(-152.1,610.2) rotate(-28.55) scale(4.307)"><text x="58.8" y="87.6" font-family="'Liberation Sans', Arial, sans-serif" font-weight="bold" font-size="33.2" fill="#00aeef">D</text></g><g transform="translate(-143.65,604.66) rotate(-28.0) scale(4.281)"><text transform="translate(137.0,105.7) scale(0.966,1)" font-family="'Liberation Sans', Arial, sans-serif" font-size="41.3" fill="#00aeef">DIGEST</text></g></g>
</g>
</svg></body></html>
